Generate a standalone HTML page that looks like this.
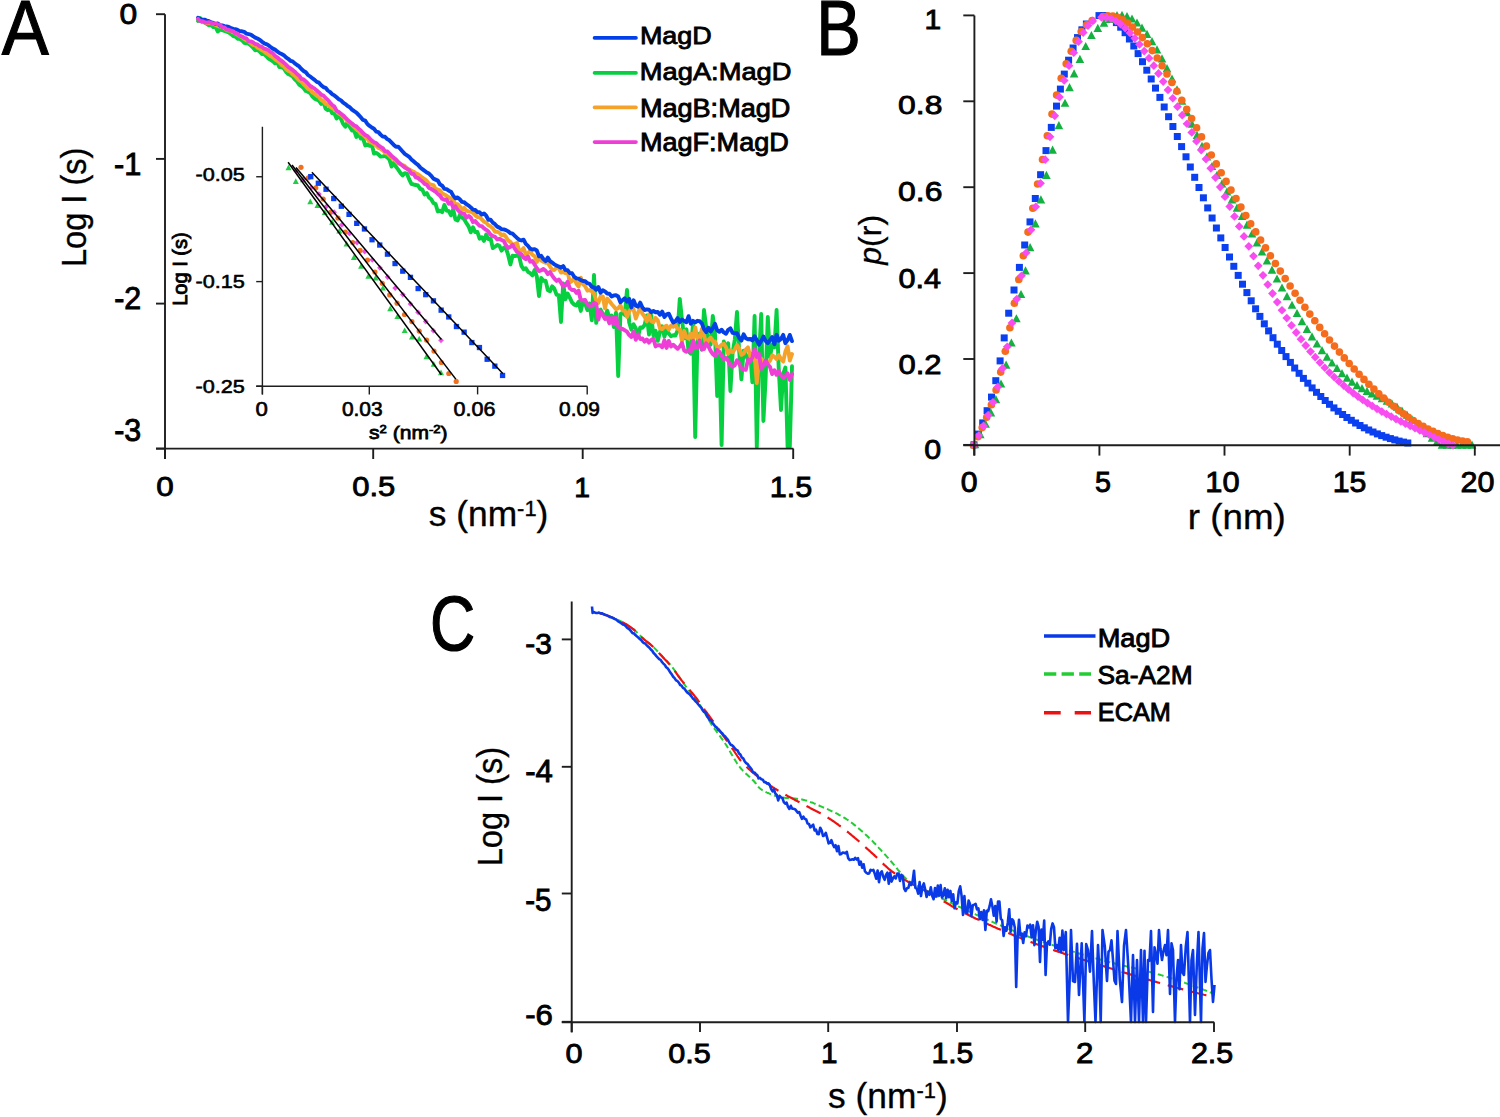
<!DOCTYPE html><html><head><meta charset="utf-8"><style>html,body{margin:0;padding:0;background:#fff;width:1500px;height:1117px;overflow:hidden}svg{display:block}</style></head><body>
<svg width="1500" height="1117" viewBox="0 0 1500 1117" font-family='"Liberation Sans", sans-serif'>
<rect width="1500" height="1117" fill="#fff"/>
<g fill="none" stroke-width="3.9" stroke-linejoin="round" stroke-linecap="round">
<path d="M198.0,20.9 L200.2,18.1 L202.4,22.0 L204.6,22.4 L206.8,23.9 L209.0,25.4 L211.2,24.8 L213.4,27.1 L215.6,27.2 L217.8,31.5 L220.0,29.6 L222.2,30.0 L224.4,31.0 L226.6,31.7 L228.8,32.5 L231.0,34.1 L233.2,36.0 L235.4,36.5 L237.6,38.7 L239.8,38.9 L242.0,40.3 L244.2,42.8 L246.4,43.3 L248.6,43.7 L250.8,45.4 L253.0,47.5 L255.2,50.3 L257.4,49.9 L259.6,51.5 L261.8,54.0 L264.0,54.0 L266.2,56.0 L268.4,58.6 L270.6,59.9 L272.8,61.2 L275.0,63.3 L277.2,62.2 L279.4,67.1 L281.6,67.2 L283.8,68.4 L286.0,71.8 L288.2,74.0 L290.4,75.0 L292.6,76.4 L294.8,79.4 L297.0,81.4 L299.2,84.6 L301.4,86.3 L303.6,88.0 L305.8,91.0 L308.0,91.7 L310.2,93.0 L312.4,96.6 L314.6,98.6 L316.8,99.6 L319.0,100.7 L321.2,104.0 L323.4,101.9 L325.6,108.6 L327.8,110.2 L330.0,108.6 L332.2,113.4 L334.4,113.4 L336.6,118.5 L338.8,115.0 L341.0,119.0 L343.2,124.1 L345.4,126.8 L347.6,121.9 L349.8,127.0 L352.0,130.6 L354.2,130.5 L356.4,137.0 L358.6,133.2 L360.8,138.6 L363.0,137.9 L365.2,145.4 L367.4,144.5 L369.6,145.8 L371.8,144.6 L374.0,153.5 L376.2,152.9 L378.4,154.3 L380.6,156.6 L382.8,156.4 L385.0,155.9 L387.2,157.4 L389.4,159.5 L391.6,166.6 L393.8,162.6 L396.0,166.8 L398.2,169.6 L400.4,172.9 L402.6,175.5 L404.8,173.1 L407.0,173.7 L409.2,179.4 L411.4,183.9 L413.6,184.5 L415.8,185.0 L418.0,185.5 L420.2,188.9 L422.4,189.7 L424.6,194.5 L426.8,193.0 L429.0,197.5 L431.2,199.2 L433.4,202.9 L435.6,204.0 L437.8,211.5 L440.0,210.6 L442.2,212.1 L444.4,204.9 L446.6,210.5 L448.8,211.1 L451.0,215.3 L453.2,209.3 L455.4,219.4 L457.6,220.4 L459.8,215.3 L462.0,217.4 L464.2,219.2 L466.4,223.1 L468.6,226.4 L470.8,232.3 L473.0,227.4 L475.2,232.1 L477.4,232.0 L479.6,238.7 L481.8,237.2 L484.0,240.9 L486.2,234.6 L488.4,239.1 L490.6,238.6 L492.8,248.1 L495.0,246.7 L497.2,244.9 L499.4,245.8 L501.6,250.6 L503.8,247.8 L506.0,248.4 L508.2,255.2 L510.4,264.4 L512.6,255.7 L514.8,256.1 L517.0,255.4 L519.2,256.5 L521.4,265.9 L523.6,269.3 L525.8,268.2 L528.0,271.8 L530.2,273.2 L532.4,275.4 L534.6,270.0 L536.8,276.3 L539.0,296.0 L541.2,278.0 L543.4,280.8 L545.6,280.6 L547.8,290.0 L550.0,291.2 L552.2,286.4 L554.4,288.9 L556.6,294.8 L558.8,295.1 L561.0,322.0 L563.2,283.4 L565.4,299.4 L567.6,293.5 L569.8,297.6 L572.0,302.3 L574.2,304.6 L576.4,305.5 L578.6,301.8 L580.8,310.9 L583.0,301.6 L585.2,303.6 L587.4,310.1 L589.6,303.5 L591.8,320.3 L594.0,275.0 L596.2,322.8 L598.4,310.8 L600.6,309.6 L602.8,313.8 L605.0,318.1 L607.2,310.6 L609.4,317.5 L611.6,315.6 L613.8,327.0 L616.0,312.7 L618.2,376.0 L620.4,314.1 L622.6,312.6 L624.8,315.0 L627.0,290.0 L629.2,322.5 L631.4,329.7 L633.6,324.3 L635.8,328.5 L638.0,336.8 L640.2,327.5 L642.4,327.8 L644.6,325.0 L646.8,315.4 L649.0,334.6 L651.2,315.5 L653.4,335.4 L655.6,330.8 L657.8,340.8 L660.0,331.8 L662.2,326.2 L664.4,336.7 L666.6,329.7 L668.8,333.6 L671.0,336.2 L673.2,335.3 L675.4,335.5 L677.6,330.4 L679.8,299.0 L682.0,319.7 L684.2,338.3 L686.4,329.3 L688.6,351.5 L690.8,353.7 L693.0,323.5 L695.2,437.0 L697.4,342.1 L699.6,333.6 L701.8,349.7 L704.0,310.0 L706.2,327.4 L708.4,343.1 L710.6,344.7 L712.8,316.0 L715.0,334.1 L717.2,396.0 L719.4,355.8 L721.6,445.0 L723.8,341.5 L726.0,348.3 L728.2,343.3 L730.4,391.0 L732.6,353.0 L734.8,339.5 L737.0,312.0 L739.2,351.3 L741.4,379.4 L743.6,350.8 L745.8,354.8 L748.0,359.9 L750.2,353.5 L752.4,382.3 L754.6,316.0 L756.8,447.0 L759.0,357.3 L761.2,314.0 L763.4,421.0 L765.6,378.8 L767.8,317.0 L770.0,357.0 L772.2,344.5 L774.4,347.3 L776.6,310.0 L778.8,370.5 L781.0,410.0 L783.2,374.0 L785.4,367.5 L787.6,447.0 L789.8,447.0 L792.0,366.3" stroke="#06d040"/>
<path d="M198.0,18.8 L200.2,20.6 L202.4,21.8 L204.6,22.4 L206.8,23.0 L209.0,22.8 L211.2,23.1 L213.4,23.6 L215.6,25.0 L217.8,26.1 L220.0,26.5 L222.2,26.8 L224.4,28.0 L226.6,30.0 L228.8,30.5 L231.0,30.8 L233.2,32.5 L235.4,33.2 L237.6,34.7 L239.8,36.0 L242.0,37.2 L244.2,39.1 L246.4,40.2 L248.6,41.4 L250.8,43.2 L253.0,44.9 L255.2,45.4 L257.4,47.5 L259.6,48.6 L261.8,50.3 L264.0,51.2 L266.2,53.2 L268.4,54.7 L270.6,56.1 L272.8,57.4 L275.0,59.4 L277.2,60.8 L279.4,62.5 L281.6,65.0 L283.8,66.2 L286.0,69.1 L288.2,70.8 L290.4,71.5 L292.6,74.4 L294.8,75.8 L297.0,78.3 L299.2,80.4 L301.4,81.5 L303.6,84.4 L305.8,86.4 L308.0,88.9 L310.2,89.8 L312.4,92.6 L314.6,93.5 L316.8,95.7 L319.0,97.2 L321.2,100.0 L323.4,101.3 L325.6,103.9 L327.8,104.8 L330.0,106.6 L332.2,108.2 L334.4,109.2 L336.6,111.2 L338.8,113.6 L341.0,114.7 L343.2,116.8 L345.4,118.7 L347.6,121.1 L349.8,122.7 L352.0,124.9 L354.2,127.2 L356.4,129.3 L358.6,130.9 L360.8,133.8 L363.0,134.8 L365.2,136.9 L367.4,138.7 L369.6,141.6 L371.8,142.7 L374.0,144.1 L376.2,145.6 L378.4,147.9 L380.6,148.8 L382.8,150.3 L385.0,152.8 L387.2,153.6 L389.4,155.8 L391.6,157.7 L393.8,159.2 L396.0,161.1 L398.2,163.4 L400.4,164.0 L402.6,165.1 L404.8,166.1 L407.0,168.2 L409.2,169.4 L411.4,170.9 L413.6,171.8 L415.8,173.1 L418.0,174.3 L420.2,175.9 L422.4,177.8 L424.6,179.1 L426.8,181.0 L429.0,183.8 L431.2,184.7 L433.4,185.1 L435.6,188.9 L437.8,189.7 L440.0,190.4 L442.2,193.5 L444.4,194.5 L446.6,195.7 L448.8,197.4 L451.0,198.7 L453.2,201.3 L455.4,203.8 L457.6,204.2 L459.8,206.4 L462.0,209.4 L464.2,207.8 L466.4,210.6 L468.6,211.3 L470.8,211.7 L473.0,212.9 L475.2,215.2 L477.4,217.0 L479.6,217.2 L481.8,219.4 L484.0,221.7 L486.2,222.8 L488.4,225.2 L490.6,226.4 L492.8,228.2 L495.0,231.8 L497.2,231.8 L499.4,232.8 L501.6,235.3 L503.8,234.4 L506.0,236.9 L508.2,240.5 L510.4,241.9 L512.6,245.1 L514.8,244.0 L517.0,243.0 L519.2,250.7 L521.4,250.7 L523.6,248.1 L525.8,254.3 L528.0,253.1 L530.2,250.8 L532.4,254.9 L534.6,256.1 L536.8,261.9 L539.0,258.1 L541.2,260.5 L543.4,261.7 L545.6,262.7 L547.8,262.7 L550.0,266.5 L552.2,269.8 L554.4,270.0 L556.6,267.5 L558.8,268.2 L561.0,272.6 L563.2,271.8 L565.4,273.2 L567.6,271.7 L569.8,282.4 L572.0,281.0 L574.2,277.4 L576.4,283.7 L578.6,286.4 L580.8,277.7 L583.0,284.2 L585.2,286.3 L587.4,290.7 L589.6,290.2 L591.8,291.4 L594.0,293.5 L596.2,300.5 L598.4,302.9 L600.6,296.3 L602.8,296.4 L605.0,308.4 L607.2,298.6 L609.4,301.0 L611.6,304.0 L613.8,306.5 L616.0,309.3 L618.2,308.3 L620.4,305.3 L622.6,310.6 L624.8,310.7 L627.0,316.9 L629.2,311.5 L631.4,307.9 L633.6,309.6 L635.8,318.6 L638.0,312.6 L640.2,308.0 L642.4,313.8 L644.6,316.5 L646.8,321.4 L649.0,314.5 L651.2,321.1 L653.4,322.4 L655.6,317.9 L657.8,320.5 L660.0,328.4 L662.2,329.1 L664.4,326.8 L666.6,325.7 L668.8,329.6 L671.0,325.7 L673.2,326.7 L675.4,324.7 L677.6,328.9 L679.8,329.4 L682.0,341.3 L684.2,330.8 L686.4,337.4 L688.6,338.6 L690.8,333.6 L693.0,339.8 L695.2,327.4 L697.4,337.3 L699.6,341.3 L701.8,329.0 L704.0,334.8 L706.2,344.7 L708.4,340.1 L710.6,337.5 L712.8,341.3 L715.0,341.4 L717.2,347.5 L719.4,347.1 L721.6,344.8 L723.8,343.8 L726.0,347.2 L728.2,353.8 L730.4,350.3 L732.6,352.2 L734.8,349.4 L737.0,345.1 L739.2,348.3 L741.4,355.0 L743.6,353.4 L745.8,349.7 L748.0,347.4 L750.2,356.1 L752.4,354.7 L754.6,355.2 L756.8,383.0 L759.0,358.3 L761.2,358.4 L763.4,361.5 L765.6,361.4 L767.8,363.3 L770.0,360.8 L772.2,355.4 L774.4,356.7 L776.6,359.2 L778.8,355.1 L781.0,359.0 L783.2,361.6 L785.4,351.6 L787.6,346.3 L789.8,360.5 L792.0,354.1" stroke="#f5a22a"/>
<path d="M198.0,17.8 L200.2,19.0 L202.4,19.7 L204.6,19.7 L206.8,20.5 L209.0,21.2 L211.2,22.4 L213.4,23.0 L215.6,24.0 L217.8,23.5 L220.0,25.5 L222.2,25.4 L224.4,26.2 L226.6,26.5 L228.8,27.0 L231.0,28.0 L233.2,28.9 L235.4,29.2 L237.6,29.9 L239.8,31.1 L242.0,31.3 L244.2,31.9 L246.4,33.6 L248.6,34.1 L250.8,34.6 L253.0,36.2 L255.2,37.6 L257.4,38.5 L259.6,39.7 L261.8,41.6 L264.0,43.2 L266.2,44.1 L268.4,45.2 L270.6,47.0 L272.8,48.6 L275.0,49.6 L277.2,51.4 L279.4,53.0 L281.6,54.0 L283.8,55.2 L286.0,57.3 L288.2,58.8 L290.4,60.8 L292.6,61.4 L294.8,63.4 L297.0,65.0 L299.2,66.4 L301.4,69.0 L303.6,71.0 L305.8,72.3 L308.0,75.0 L310.2,76.5 L312.4,78.2 L314.6,79.9 L316.8,81.9 L319.0,82.7 L321.2,85.3 L323.4,87.1 L325.6,87.8 L327.8,90.5 L330.0,92.0 L332.2,94.2 L334.4,95.4 L336.6,97.3 L338.8,99.2 L341.0,100.4 L343.2,102.7 L345.4,104.1 L347.6,106.0 L349.8,107.2 L352.0,109.6 L354.2,111.2 L356.4,112.6 L358.6,114.9 L360.8,117.3 L363.0,119.9 L365.2,120.6 L367.4,124.0 L369.6,125.9 L371.8,127.5 L374.0,128.8 L376.2,131.6 L378.4,132.1 L380.6,134.6 L382.8,136.6 L385.0,136.8 L387.2,139.1 L389.4,140.3 L391.6,142.6 L393.8,144.9 L396.0,146.8 L398.2,146.7 L400.4,149.0 L402.6,151.5 L404.8,153.9 L407.0,155.3 L409.2,156.8 L411.4,159.4 L413.6,161.3 L415.8,163.2 L418.0,164.9 L420.2,167.4 L422.4,169.2 L424.6,170.8 L426.8,172.5 L429.0,173.6 L431.2,175.8 L433.4,178.6 L435.6,179.6 L437.8,180.6 L440.0,184.4 L442.2,185.7 L444.4,188.8 L446.6,189.2 L448.8,190.7 L451.0,191.7 L453.2,195.6 L455.4,198.4 L457.6,197.4 L459.8,199.2 L462.0,201.9 L464.2,202.2 L466.4,204.2 L468.6,205.6 L470.8,207.4 L473.0,209.6 L475.2,210.0 L477.4,212.2 L479.6,212.3 L481.8,214.5 L484.0,213.5 L486.2,215.7 L488.4,219.7 L490.6,219.8 L492.8,222.6 L495.0,224.2 L497.2,226.6 L499.4,227.6 L501.6,229.3 L503.8,229.4 L506.0,230.1 L508.2,231.4 L510.4,233.1 L512.6,233.7 L514.8,235.8 L517.0,237.9 L519.2,239.8 L521.4,240.5 L523.6,239.7 L525.8,243.9 L528.0,245.9 L530.2,248.7 L532.4,249.5 L534.6,249.1 L536.8,250.5 L539.0,256.3 L541.2,255.8 L543.4,259.1 L545.6,261.1 L547.8,257.6 L550.0,261.1 L552.2,262.7 L554.4,264.3 L556.6,265.7 L558.8,266.5 L561.0,267.8 L563.2,266.1 L565.4,269.9 L567.6,270.2 L569.8,273.1 L572.0,273.3 L574.2,276.7 L576.4,278.4 L578.6,278.7 L580.8,280.1 L583.0,281.0 L585.2,281.3 L587.4,283.2 L589.6,283.8 L591.8,286.9 L594.0,287.4 L596.2,289.8 L598.4,287.0 L600.6,292.8 L602.8,290.3 L605.0,291.4 L607.2,293.5 L609.4,293.7 L611.6,296.5 L613.8,295.4 L616.0,295.2 L618.2,296.5 L620.4,302.3 L622.6,300.2 L624.8,298.2 L627.0,301.7 L629.2,298.9 L631.4,307.4 L633.6,300.3 L635.8,305.8 L638.0,306.7 L640.2,302.6 L642.4,307.5 L644.6,310.0 L646.8,309.4 L649.0,309.7 L651.2,312.2 L653.4,311.0 L655.6,312.3 L657.8,312.0 L660.0,314.8 L662.2,311.6 L664.4,317.0 L666.6,314.4 L668.8,313.7 L671.0,318.3 L673.2,322.6 L675.4,321.3 L677.6,318.1 L679.8,322.0 L682.0,319.5 L684.2,321.0 L686.4,322.2 L688.6,316.2 L690.8,323.7 L693.0,320.9 L695.2,322.4 L697.4,320.8 L699.6,321.2 L701.8,323.4 L704.0,329.1 L706.2,332.1 L708.4,327.7 L710.6,331.6 L712.8,328.1 L715.0,323.8 L717.2,330.4 L719.4,331.8 L721.6,329.7 L723.8,332.4 L726.0,333.7 L728.2,329.8 L730.4,328.4 L732.6,332.8 L734.8,333.3 L737.0,333.3 L739.2,337.9 L741.4,340.6 L743.6,334.3 L745.8,338.2 L748.0,339.3 L750.2,339.0 L752.4,340.4 L754.6,336.2 L756.8,340.2 L759.0,344.7 L761.2,341.0 L763.4,336.6 L765.6,340.9 L767.8,343.2 L770.0,340.2 L772.2,337.1 L774.4,344.2 L776.6,334.8 L778.8,340.7 L781.0,338.9 L783.2,334.9 L785.4,343.2 L787.6,340.2 L789.8,334.9 L792.0,341.1" stroke="#0340e8"/>
<path d="M198.0,18.8 L200.2,21.3 L202.4,21.1 L204.6,22.3 L206.8,22.6 L209.0,22.2 L211.2,22.9 L213.4,23.3 L215.6,23.7 L217.8,24.3 L220.0,24.7 L222.2,27.1 L224.4,27.4 L226.6,29.5 L228.8,29.8 L231.0,30.6 L233.2,31.3 L235.4,33.3 L237.6,33.7 L239.8,35.9 L242.0,36.3 L244.2,37.9 L246.4,38.4 L248.6,41.2 L250.8,41.4 L253.0,42.3 L255.2,44.0 L257.4,44.4 L259.6,46.3 L261.8,46.6 L264.0,48.6 L266.2,49.2 L268.4,50.2 L270.6,52.1 L272.8,53.3 L275.0,55.8 L277.2,57.3 L279.4,59.3 L281.6,60.9 L283.8,62.6 L286.0,64.6 L288.2,66.9 L290.4,68.3 L292.6,69.9 L294.8,71.7 L297.0,74.0 L299.2,75.7 L301.4,78.8 L303.6,79.4 L305.8,81.4 L308.0,83.7 L310.2,86.0 L312.4,87.3 L314.6,88.7 L316.8,90.5 L319.0,92.4 L321.2,94.7 L323.4,95.6 L325.6,98.0 L327.8,99.9 L330.0,102.6 L332.2,105.0 L334.4,106.6 L336.6,110.7 L338.8,111.9 L341.0,113.7 L343.2,115.5 L345.4,117.7 L347.6,119.8 L349.8,121.9 L352.0,123.5 L354.2,125.5 L356.4,126.4 L358.6,128.8 L360.8,130.6 L363.0,133.0 L365.2,135.0 L367.4,136.0 L369.6,138.4 L371.8,140.6 L374.0,142.3 L376.2,143.0 L378.4,145.4 L380.6,146.9 L382.8,148.2 L385.0,151.1 L387.2,151.4 L389.4,153.6 L391.6,155.9 L393.8,157.7 L396.0,159.5 L398.2,162.1 L400.4,164.0 L402.6,165.7 L404.8,167.6 L407.0,168.9 L409.2,170.2 L411.4,173.7 L413.6,174.0 L415.8,177.4 L418.0,178.0 L420.2,180.0 L422.4,181.5 L424.6,183.9 L426.8,184.8 L429.0,188.0 L431.2,188.9 L433.4,190.4 L435.6,191.7 L437.8,194.0 L440.0,195.6 L442.2,198.8 L444.4,199.8 L446.6,199.5 L448.8,203.8 L451.0,202.3 L453.2,207.4 L455.4,206.2 L457.6,209.7 L459.8,212.2 L462.0,213.2 L464.2,213.7 L466.4,217.7 L468.6,215.9 L470.8,217.6 L473.0,222.1 L475.2,221.0 L477.4,223.7 L479.6,225.8 L481.8,226.2 L484.0,228.3 L486.2,229.8 L488.4,231.6 L490.6,234.6 L492.8,236.0 L495.0,236.8 L497.2,239.4 L499.4,238.8 L501.6,239.9 L503.8,241.0 L506.0,245.3 L508.2,248.1 L510.4,246.9 L512.6,244.8 L514.8,248.7 L517.0,251.9 L519.2,253.1 L521.4,254.3 L523.6,257.6 L525.8,259.2 L528.0,256.5 L530.2,261.7 L532.4,261.0 L534.6,264.6 L536.8,268.3 L539.0,271.1 L541.2,270.2 L543.4,268.9 L545.6,270.7 L547.8,274.1 L550.0,272.0 L552.2,275.6 L554.4,278.7 L556.6,281.0 L558.8,279.5 L561.0,282.6 L563.2,286.6 L565.4,285.4 L567.6,281.7 L569.8,288.3 L572.0,290.0 L574.2,289.9 L576.4,292.9 L578.6,290.7 L580.8,300.2 L583.0,300.3 L585.2,300.0 L587.4,304.6 L589.6,306.6 L591.8,306.0 L594.0,302.8 L596.2,303.9 L598.4,319.5 L600.6,311.6 L602.8,315.3 L605.0,319.0 L607.2,317.3 L609.4,323.2 L611.6,317.9 L613.8,323.8 L616.0,316.9 L618.2,327.1 L620.4,328.5 L622.6,329.0 L624.8,330.3 L627.0,331.7 L629.2,335.1 L631.4,336.9 L633.6,331.9 L635.8,339.8 L638.0,334.3 L640.2,339.0 L642.4,338.5 L644.6,341.7 L646.8,339.5 L649.0,342.6 L651.2,340.0 L653.4,338.8 L655.6,346.4 L657.8,345.1 L660.0,345.3 L662.2,347.3 L664.4,340.3 L666.6,347.9 L668.8,340.9 L671.0,346.6 L673.2,344.8 L675.4,346.8 L677.6,348.8 L679.8,346.5 L682.0,343.1 L684.2,350.5 L686.4,351.7 L688.6,350.0 L690.8,351.6 L693.0,340.7 L695.2,348.2 L697.4,347.7 L699.6,340.6 L701.8,349.2 L704.0,349.1 L706.2,343.3 L708.4,346.4 L710.6,350.9 L712.8,354.1 L715.0,356.0 L717.2,350.0 L719.4,351.8 L721.6,355.8 L723.8,359.2 L726.0,358.0 L728.2,360.8 L730.4,365.8 L732.6,366.7 L734.8,365.3 L737.0,360.4 L739.2,363.7 L741.4,368.5 L743.6,369.6 L745.8,369.9 L748.0,359.6 L750.2,361.4 L752.4,357.3 L754.6,348.7 L756.8,356.9 L759.0,353.9 L761.2,368.9 L763.4,365.1 L765.6,360.5 L767.8,364.5 L770.0,366.9 L772.2,374.1 L774.4,370.2 L776.6,374.8 L778.8,370.7 L781.0,375.8 L783.2,377.7 L785.4,376.4 L787.6,373.3 L789.8,380.0 L792.0,374.1" stroke="#ee3ed6"/>
</g>
<g stroke="#1e1e1e" stroke-width="1.9" fill="none">
<path d="M165,14.2 V459 M156,448.6 H793.4"/>
<path d="M156,14.2 H165"/>
<path d="M156,158.9 H165"/>
<path d="M156,303.6 H165"/>
<path d="M156,448.6 H165"/>
<path d="M165,448.6 V459"/>
<path d="M373.2,448.6 V459"/>
<path d="M582.7,448.6 V459"/>
<path d="M793.2,448.6 V459"/>
</g>
<path d="M594.5,37.9 H636" stroke="#0340e8" stroke-width="3.6" stroke-linecap="round"/>
<path d="M594.5,72.9 H636" stroke="#06d040" stroke-width="3.6" stroke-linecap="round"/>
<path d="M594.5,107.4 H636" stroke="#f5a22a" stroke-width="3.6" stroke-linecap="round"/>
<path d="M594.5,142.1 H636" stroke="#ee3ed6" stroke-width="3.6" stroke-linecap="round"/>
<g stroke="#1e1e1e" stroke-width="1.4" fill="none">
<path d="M262.4,126.7 V394.4 M256.2,386.2 H587.4"/>
<path d="M256.2,176.75 H262.4"/>
<path d="M256.2,281.6 H262.4"/>
<path d="M256.2,386.2 H262.4"/>
<path d="M262.4,386.2 V394.4"/>
<path d="M369.3,386.2 V394.4"/>
<path d="M477.6,386.2 V394.4"/>
<path d="M587.2,386.2 V394.4"/>
</g>
<path d="M288.5,164.5 L291.5,170.2 L285.5,170.2Z" fill="#22cc44"/>
<path d="M295.8,178.3 L298.8,184.0 L292.8,184.0Z" fill="#22cc44"/>
<path d="M303.0,176.5 L306.0,182.2 L300.0,182.2Z" fill="#22cc44"/>
<path d="M310.3,198.5 L313.3,204.2 L307.3,204.2Z" fill="#22cc44"/>
<path d="M317.5,202.2 L320.5,207.9 L314.5,207.9Z" fill="#22cc44"/>
<path d="M324.8,209.3 L327.8,215.0 L321.8,215.0Z" fill="#22cc44"/>
<path d="M332.1,219.1 L335.1,224.8 L329.1,224.8Z" fill="#22cc44"/>
<path d="M339.3,227.9 L342.3,233.6 L336.3,233.6Z" fill="#22cc44"/>
<path d="M346.6,240.7 L349.6,246.4 L343.6,246.4Z" fill="#22cc44"/>
<path d="M353.9,254.2 L356.9,259.9 L350.9,259.9Z" fill="#22cc44"/>
<path d="M361.1,263.1 L364.1,268.8 L358.1,268.8Z" fill="#22cc44"/>
<path d="M368.4,273.1 L371.4,278.8 L365.4,278.8Z" fill="#22cc44"/>
<path d="M375.6,274.7 L378.6,280.4 L372.6,280.4Z" fill="#22cc44"/>
<path d="M382.9,284.9 L385.9,290.6 L379.9,290.6Z" fill="#22cc44"/>
<path d="M390.2,305.6 L393.2,311.3 L387.2,311.3Z" fill="#22cc44"/>
<path d="M397.4,313.4 L400.4,319.1 L394.4,319.1Z" fill="#22cc44"/>
<path d="M404.7,327.4 L407.7,333.1 L401.7,333.1Z" fill="#22cc44"/>
<path d="M412.0,333.8 L415.0,339.5 L409.0,339.5Z" fill="#22cc44"/>
<path d="M419.2,335.8 L422.2,341.5 L416.2,341.5Z" fill="#22cc44"/>
<path d="M426.5,353.6 L429.5,359.3 L423.5,359.3Z" fill="#22cc44"/>
<path d="M433.7,361.1 L436.7,366.8 L430.7,366.8Z" fill="#22cc44"/>
<path d="M441.0,369.5 L444.0,375.2 L438.0,375.2Z" fill="#22cc44"/>
<circle cx="301.0" cy="167.3" r="2.6" fill="#f07020"/>
<circle cx="308.4" cy="177.8" r="2.6" fill="#f07020"/>
<circle cx="315.8" cy="187.8" r="2.6" fill="#f07020"/>
<circle cx="323.2" cy="199.0" r="2.6" fill="#f07020"/>
<circle cx="330.6" cy="212.3" r="2.6" fill="#f07020"/>
<circle cx="338.0" cy="218.0" r="2.6" fill="#f07020"/>
<circle cx="345.3" cy="232.0" r="2.6" fill="#f07020"/>
<circle cx="352.7" cy="242.6" r="2.6" fill="#f07020"/>
<circle cx="360.1" cy="250.4" r="2.6" fill="#f07020"/>
<circle cx="367.5" cy="260.1" r="2.6" fill="#f07020"/>
<circle cx="374.9" cy="272.0" r="2.6" fill="#f07020"/>
<circle cx="382.3" cy="283.3" r="2.6" fill="#f07020"/>
<circle cx="389.7" cy="294.9" r="2.6" fill="#f07020"/>
<circle cx="397.1" cy="303.2" r="2.6" fill="#f07020"/>
<circle cx="404.5" cy="314.5" r="2.6" fill="#f07020"/>
<circle cx="411.9" cy="321.6" r="2.6" fill="#f07020"/>
<circle cx="419.2" cy="331.1" r="2.6" fill="#f07020"/>
<circle cx="426.6" cy="340.1" r="2.6" fill="#f07020"/>
<circle cx="434.0" cy="351.1" r="2.6" fill="#f07020"/>
<circle cx="441.4" cy="362.5" r="2.6" fill="#f07020"/>
<circle cx="448.8" cy="373.5" r="2.6" fill="#f07020"/>
<circle cx="456.2" cy="381.4" r="2.6" fill="#f07020"/>
<path d="M296.0,167.8 L298.9,170.7 L296.0,173.5 L293.1,170.7Z" fill="#f050e8"/>
<path d="M303.6,176.3 L306.5,179.2 L303.6,182.1 L300.8,179.2Z" fill="#f050e8"/>
<path d="M311.3,185.0 L314.1,187.8 L311.3,190.7 L308.4,187.8Z" fill="#f050e8"/>
<path d="M318.9,191.2 L321.8,194.1 L318.9,196.9 L316.0,194.1Z" fill="#f050e8"/>
<path d="M326.5,203.4 L329.4,206.3 L326.5,209.2 L323.7,206.3Z" fill="#f050e8"/>
<path d="M334.2,209.3 L337.0,212.2 L334.2,215.1 L331.3,212.2Z" fill="#f050e8"/>
<path d="M341.8,221.9 L344.7,224.8 L341.8,227.7 L338.9,224.8Z" fill="#f050e8"/>
<path d="M349.4,230.5 L352.3,233.4 L349.4,236.2 L346.5,233.4Z" fill="#f050e8"/>
<path d="M357.1,239.7 L359.9,242.6 L357.1,245.5 L354.2,242.6Z" fill="#f050e8"/>
<path d="M364.7,248.6 L367.6,251.5 L364.7,254.4 L361.8,251.5Z" fill="#f050e8"/>
<path d="M372.3,257.0 L375.2,259.8 L372.3,262.7 L369.4,259.8Z" fill="#f050e8"/>
<path d="M379.9,264.9 L382.8,267.8 L379.9,270.7 L377.1,267.8Z" fill="#f050e8"/>
<path d="M387.6,274.1 L390.5,277.0 L387.6,279.9 L384.7,277.0Z" fill="#f050e8"/>
<path d="M395.2,285.3 L398.1,288.1 L395.2,291.0 L392.3,288.1Z" fill="#f050e8"/>
<path d="M402.8,291.7 L405.7,294.6 L402.8,297.4 L400.0,294.6Z" fill="#f050e8"/>
<path d="M410.5,301.1 L413.3,303.9 L410.5,306.8 L407.6,303.9Z" fill="#f050e8"/>
<path d="M418.1,309.4 L421.0,312.3 L418.1,315.2 L415.2,312.3Z" fill="#f050e8"/>
<path d="M425.7,318.6 L428.6,321.5 L425.7,324.4 L422.9,321.5Z" fill="#f050e8"/>
<path d="M433.4,327.8 L436.2,330.7 L433.4,333.6 L430.5,330.7Z" fill="#f050e8"/>
<path d="M441.0,337.4 L443.9,340.3 L441.0,343.2 L438.1,340.3Z" fill="#f050e8"/>
<rect x="308.1" y="174.0" width="5.3" height="5.3" fill="#0a40f0"/>
<rect x="315.7" y="180.6" width="5.3" height="5.3" fill="#0a40f0"/>
<rect x="323.4" y="186.6" width="5.3" height="5.3" fill="#0a40f0"/>
<rect x="331.1" y="195.9" width="5.3" height="5.3" fill="#0a40f0"/>
<rect x="338.7" y="203.6" width="5.3" height="5.3" fill="#0a40f0"/>
<rect x="346.4" y="211.7" width="5.3" height="5.3" fill="#0a40f0"/>
<rect x="354.1" y="220.7" width="5.3" height="5.3" fill="#0a40f0"/>
<rect x="361.8" y="226.3" width="5.3" height="5.3" fill="#0a40f0"/>
<rect x="369.4" y="237.1" width="5.3" height="5.3" fill="#0a40f0"/>
<rect x="377.1" y="242.4" width="5.3" height="5.3" fill="#0a40f0"/>
<rect x="384.8" y="251.5" width="5.3" height="5.3" fill="#0a40f0"/>
<rect x="392.4" y="260.9" width="5.3" height="5.3" fill="#0a40f0"/>
<rect x="400.1" y="268.5" width="5.3" height="5.3" fill="#0a40f0"/>
<rect x="407.8" y="274.7" width="5.3" height="5.3" fill="#0a40f0"/>
<rect x="415.5" y="285.9" width="5.3" height="5.3" fill="#0a40f0"/>
<rect x="423.1" y="292.0" width="5.3" height="5.3" fill="#0a40f0"/>
<rect x="430.8" y="298.2" width="5.3" height="5.3" fill="#0a40f0"/>
<rect x="438.5" y="307.5" width="5.3" height="5.3" fill="#0a40f0"/>
<rect x="446.1" y="314.3" width="5.3" height="5.3" fill="#0a40f0"/>
<rect x="453.8" y="323.9" width="5.3" height="5.3" fill="#0a40f0"/>
<rect x="461.5" y="329.5" width="5.3" height="5.3" fill="#0a40f0"/>
<rect x="469.2" y="339.9" width="5.3" height="5.3" fill="#0a40f0"/>
<rect x="476.8" y="344.9" width="5.3" height="5.3" fill="#0a40f0"/>
<rect x="484.5" y="356.6" width="5.3" height="5.3" fill="#0a40f0"/>
<rect x="492.2" y="363.5" width="5.3" height="5.3" fill="#0a40f0"/>
<rect x="499.9" y="372.8" width="5.3" height="5.3" fill="#0a40f0"/>
<g stroke="#000" stroke-width="1.5" fill="none">
<path d="M288.1,162.3 L441.4,374.7"/>
<path d="M292.0,165.0 L455.8,379.1"/>
<path d="M296.0,167.5 L441.4,339.6"/>
<path d="M311.9,172.3 L502.8,373.5"/>
</g>
<rect x="970.5" y="441.3" width="7.0" height="7.0" fill="#0a40f0"/>
<rect x="974.9" y="430.6" width="7.0" height="7.0" fill="#0a40f0"/>
<rect x="979.2" y="419.4" width="7.0" height="7.0" fill="#0a40f0"/>
<rect x="983.6" y="407.2" width="7.0" height="7.0" fill="#0a40f0"/>
<rect x="988.0" y="393.6" width="7.0" height="7.0" fill="#0a40f0"/>
<rect x="992.3" y="377.2" width="7.0" height="7.0" fill="#0a40f0"/>
<rect x="996.6" y="357.4" width="7.0" height="7.0" fill="#0a40f0"/>
<rect x="1000.7" y="334.4" width="7.0" height="7.0" fill="#0a40f0"/>
<rect x="1005.2" y="309.7" width="7.0" height="7.0" fill="#0a40f0"/>
<rect x="1010.5" y="286.5" width="7.0" height="7.0" fill="#0a40f0"/>
<rect x="1015.9" y="263.9" width="7.0" height="7.0" fill="#0a40f0"/>
<rect x="1021.2" y="241.5" width="7.0" height="7.0" fill="#0a40f0"/>
<rect x="1026.5" y="218.4" width="7.0" height="7.0" fill="#0a40f0"/>
<rect x="1031.8" y="195.0" width="7.0" height="7.0" fill="#0a40f0"/>
<rect x="1037.1" y="171.2" width="7.0" height="7.0" fill="#0a40f0"/>
<rect x="1042.5" y="147.1" width="7.0" height="7.0" fill="#0a40f0"/>
<rect x="1047.8" y="123.9" width="7.0" height="7.0" fill="#0a40f0"/>
<rect x="1053.0" y="102.6" width="7.0" height="7.0" fill="#0a40f0"/>
<rect x="1056.9" y="85.6" width="7.0" height="7.0" fill="#0a40f0"/>
<rect x="1060.8" y="70.6" width="7.0" height="7.0" fill="#0a40f0"/>
<rect x="1065.1" y="56.7" width="7.0" height="7.0" fill="#0a40f0"/>
<rect x="1069.6" y="44.5" width="7.0" height="7.0" fill="#0a40f0"/>
<rect x="1074.0" y="34.1" width="7.0" height="7.0" fill="#0a40f0"/>
<rect x="1078.4" y="26.3" width="7.0" height="7.0" fill="#0a40f0"/>
<rect x="1082.9" y="20.5" width="7.0" height="7.0" fill="#0a40f0"/>
<rect x="1095.5" y="12.1" width="7.0" height="7.0" fill="#0a40f0"/>
<rect x="1099.8" y="12.0" width="7.0" height="7.0" fill="#0a40f0"/>
<rect x="1104.2" y="13.2" width="7.0" height="7.0" fill="#0a40f0"/>
<rect x="1108.5" y="15.6" width="7.0" height="7.0" fill="#0a40f0"/>
<rect x="1112.9" y="19.1" width="7.0" height="7.0" fill="#0a40f0"/>
<rect x="1117.2" y="23.7" width="7.0" height="7.0" fill="#0a40f0"/>
<rect x="1121.6" y="29.2" width="7.0" height="7.0" fill="#0a40f0"/>
<rect x="1125.9" y="35.5" width="7.0" height="7.0" fill="#0a40f0"/>
<rect x="1130.3" y="42.5" width="7.0" height="7.0" fill="#0a40f0"/>
<rect x="1134.6" y="50.1" width="7.0" height="7.0" fill="#0a40f0"/>
<rect x="1139.0" y="58.2" width="7.0" height="7.0" fill="#0a40f0"/>
<rect x="1143.3" y="66.7" width="7.0" height="7.0" fill="#0a40f0"/>
<rect x="1147.7" y="75.5" width="7.0" height="7.0" fill="#0a40f0"/>
<rect x="1152.0" y="84.6" width="7.0" height="7.0" fill="#0a40f0"/>
<rect x="1156.4" y="93.9" width="7.0" height="7.0" fill="#0a40f0"/>
<rect x="1160.7" y="103.5" width="7.0" height="7.0" fill="#0a40f0"/>
<rect x="1165.1" y="113.2" width="7.0" height="7.0" fill="#0a40f0"/>
<rect x="1169.4" y="123.0" width="7.0" height="7.0" fill="#0a40f0"/>
<rect x="1173.8" y="133.0" width="7.0" height="7.0" fill="#0a40f0"/>
<rect x="1178.1" y="143.1" width="7.0" height="7.0" fill="#0a40f0"/>
<rect x="1182.5" y="153.3" width="7.0" height="7.0" fill="#0a40f0"/>
<rect x="1186.8" y="163.5" width="7.0" height="7.0" fill="#0a40f0"/>
<rect x="1191.2" y="173.8" width="7.0" height="7.0" fill="#0a40f0"/>
<rect x="1195.5" y="184.0" width="7.0" height="7.0" fill="#0a40f0"/>
<rect x="1199.9" y="194.3" width="7.0" height="7.0" fill="#0a40f0"/>
<rect x="1204.2" y="204.4" width="7.0" height="7.0" fill="#0a40f0"/>
<rect x="1208.6" y="214.5" width="7.0" height="7.0" fill="#0a40f0"/>
<rect x="1212.9" y="224.5" width="7.0" height="7.0" fill="#0a40f0"/>
<rect x="1217.3" y="234.4" width="7.0" height="7.0" fill="#0a40f0"/>
<rect x="1221.6" y="244.0" width="7.0" height="7.0" fill="#0a40f0"/>
<rect x="1226.0" y="253.5" width="7.0" height="7.0" fill="#0a40f0"/>
<rect x="1230.3" y="262.8" width="7.0" height="7.0" fill="#0a40f0"/>
<rect x="1234.7" y="271.9" width="7.0" height="7.0" fill="#0a40f0"/>
<rect x="1239.0" y="280.7" width="7.0" height="7.0" fill="#0a40f0"/>
<rect x="1243.4" y="289.1" width="7.0" height="7.0" fill="#0a40f0"/>
<rect x="1247.7" y="297.3" width="7.0" height="7.0" fill="#0a40f0"/>
<rect x="1252.1" y="305.3" width="7.0" height="7.0" fill="#0a40f0"/>
<rect x="1256.4" y="312.9" width="7.0" height="7.0" fill="#0a40f0"/>
<rect x="1260.8" y="320.3" width="7.0" height="7.0" fill="#0a40f0"/>
<rect x="1265.1" y="327.4" width="7.0" height="7.0" fill="#0a40f0"/>
<rect x="1269.5" y="334.2" width="7.0" height="7.0" fill="#0a40f0"/>
<rect x="1273.8" y="340.7" width="7.0" height="7.0" fill="#0a40f0"/>
<rect x="1278.2" y="347.0" width="7.0" height="7.0" fill="#0a40f0"/>
<rect x="1282.5" y="353.1" width="7.0" height="7.0" fill="#0a40f0"/>
<rect x="1286.9" y="358.9" width="7.0" height="7.0" fill="#0a40f0"/>
<rect x="1291.2" y="364.5" width="7.0" height="7.0" fill="#0a40f0"/>
<rect x="1295.6" y="369.8" width="7.0" height="7.0" fill="#0a40f0"/>
<rect x="1299.9" y="374.9" width="7.0" height="7.0" fill="#0a40f0"/>
<rect x="1304.3" y="379.7" width="7.0" height="7.0" fill="#0a40f0"/>
<rect x="1308.6" y="384.4" width="7.0" height="7.0" fill="#0a40f0"/>
<rect x="1313.0" y="388.8" width="7.0" height="7.0" fill="#0a40f0"/>
<rect x="1317.3" y="393.0" width="7.0" height="7.0" fill="#0a40f0"/>
<rect x="1321.7" y="397.0" width="7.0" height="7.0" fill="#0a40f0"/>
<rect x="1326.0" y="400.8" width="7.0" height="7.0" fill="#0a40f0"/>
<rect x="1330.4" y="404.4" width="7.0" height="7.0" fill="#0a40f0"/>
<rect x="1334.7" y="407.8" width="7.0" height="7.0" fill="#0a40f0"/>
<rect x="1339.1" y="411.0" width="7.0" height="7.0" fill="#0a40f0"/>
<rect x="1343.4" y="414.0" width="7.0" height="7.0" fill="#0a40f0"/>
<rect x="1347.8" y="416.8" width="7.0" height="7.0" fill="#0a40f0"/>
<rect x="1352.1" y="419.5" width="7.0" height="7.0" fill="#0a40f0"/>
<rect x="1356.5" y="422.0" width="7.0" height="7.0" fill="#0a40f0"/>
<rect x="1360.8" y="424.3" width="7.0" height="7.0" fill="#0a40f0"/>
<rect x="1365.2" y="426.5" width="7.0" height="7.0" fill="#0a40f0"/>
<rect x="1369.5" y="428.5" width="7.0" height="7.0" fill="#0a40f0"/>
<rect x="1373.9" y="430.4" width="7.0" height="7.0" fill="#0a40f0"/>
<rect x="1378.2" y="432.1" width="7.0" height="7.0" fill="#0a40f0"/>
<rect x="1382.6" y="433.7" width="7.0" height="7.0" fill="#0a40f0"/>
<rect x="1386.9" y="435.1" width="7.0" height="7.0" fill="#0a40f0"/>
<rect x="1391.3" y="436.4" width="7.0" height="7.0" fill="#0a40f0"/>
<rect x="1395.6" y="437.6" width="7.0" height="7.0" fill="#0a40f0"/>
<rect x="1400.0" y="438.6" width="7.0" height="7.0" fill="#0a40f0"/>
<rect x="1404.3" y="439.5" width="7.0" height="7.0" fill="#0a40f0"/>
<path d="M975.0,440.0 L979.3,448.2 L970.7,448.2Z" fill="#14b040"/>
<path d="M980.3,430.1 L984.6,438.3 L976.0,438.3Z" fill="#14b040"/>
<path d="M985.6,419.7 L989.9,427.8 L981.3,427.8Z" fill="#14b040"/>
<path d="M990.9,408.2 L995.2,416.4 L986.6,416.4Z" fill="#14b040"/>
<path d="M995.9,395.1 L1000.2,403.3 L991.6,403.3Z" fill="#14b040"/>
<path d="M1001.0,379.4 L1005.3,387.6 L996.7,387.6Z" fill="#14b040"/>
<path d="M1006.1,360.5 L1010.4,368.7 L1001.8,368.7Z" fill="#14b040"/>
<path d="M1011.4,338.4 L1015.7,346.6 L1007.1,346.6Z" fill="#14b040"/>
<path d="M1016.4,314.2 L1020.7,322.3 L1012.1,322.3Z" fill="#14b040"/>
<path d="M1021.0,289.9 L1025.3,298.1 L1016.7,298.1Z" fill="#14b040"/>
<path d="M1025.5,266.3 L1029.8,274.5 L1021.2,274.5Z" fill="#14b040"/>
<path d="M1030.1,243.0 L1034.4,251.2 L1025.8,251.2Z" fill="#14b040"/>
<path d="M1035.4,219.2 L1039.7,227.4 L1031.1,227.4Z" fill="#14b040"/>
<path d="M1040.9,195.2 L1045.2,203.4 L1036.6,203.4Z" fill="#14b040"/>
<path d="M1046.4,170.8 L1050.7,178.9 L1042.1,178.9Z" fill="#14b040"/>
<path d="M1052.6,145.6 L1056.9,153.7 L1048.3,153.7Z" fill="#14b040"/>
<path d="M1058.9,121.1 L1063.2,129.3 L1054.6,129.3Z" fill="#14b040"/>
<path d="M1065.0,98.7 L1069.3,106.8 L1060.7,106.8Z" fill="#14b040"/>
<path d="M1069.5,83.0 L1073.8,91.2 L1065.2,91.2Z" fill="#14b040"/>
<path d="M1074.1,69.3 L1078.4,77.5 L1069.8,77.5Z" fill="#14b040"/>
<path d="M1079.9,54.8 L1084.2,62.9 L1075.6,62.9Z" fill="#14b040"/>
<path d="M1085.7,41.9 L1090.0,50.1 L1081.4,50.1Z" fill="#14b040"/>
<path d="M1091.4,30.9 L1095.7,39.1 L1087.1,39.1Z" fill="#14b040"/>
<path d="M1097.8,23.7 L1102.1,31.9 L1093.5,31.9Z" fill="#14b040"/>
<path d="M1104.0,18.5 L1108.3,26.7 L1099.7,26.7Z" fill="#14b040"/>
<path d="M1109.7,14.9 L1114.0,23.1 L1105.4,23.1Z" fill="#14b040"/>
<path d="M1117.0,11.1 L1121.3,19.3 L1112.7,19.3Z" fill="#14b040"/>
<path d="M1122.0,10.7 L1126.3,18.9 L1117.7,18.9Z" fill="#14b040"/>
<path d="M1127.0,11.9 L1131.3,20.0 L1122.7,20.0Z" fill="#14b040"/>
<path d="M1132.0,14.4 L1136.3,22.6 L1127.7,22.6Z" fill="#14b040"/>
<path d="M1137.0,18.4 L1141.3,26.5 L1132.7,26.5Z" fill="#14b040"/>
<path d="M1142.0,23.5 L1146.3,31.7 L1137.7,31.7Z" fill="#14b040"/>
<path d="M1147.0,29.8 L1151.3,37.9 L1142.7,37.9Z" fill="#14b040"/>
<path d="M1152.0,37.1 L1156.3,45.2 L1147.7,45.2Z" fill="#14b040"/>
<path d="M1157.0,45.3 L1161.3,53.4 L1152.7,53.4Z" fill="#14b040"/>
<path d="M1162.0,54.3 L1166.3,62.5 L1157.7,62.5Z" fill="#14b040"/>
<path d="M1167.0,64.0 L1171.3,72.2 L1162.7,72.2Z" fill="#14b040"/>
<path d="M1172.0,74.4 L1176.3,82.6 L1167.7,82.6Z" fill="#14b040"/>
<path d="M1177.0,85.2 L1181.3,93.4 L1172.7,93.4Z" fill="#14b040"/>
<path d="M1182.0,96.5 L1186.3,104.7 L1177.7,104.7Z" fill="#14b040"/>
<path d="M1187.0,108.0 L1191.3,116.2 L1182.7,116.2Z" fill="#14b040"/>
<path d="M1192.0,119.5 L1196.3,127.7 L1187.7,127.7Z" fill="#14b040"/>
<path d="M1197.0,130.8 L1201.3,139.0 L1192.7,139.0Z" fill="#14b040"/>
<path d="M1202.0,141.8 L1206.3,150.0 L1197.7,150.0Z" fill="#14b040"/>
<path d="M1207.0,152.2 L1211.3,160.4 L1202.7,160.4Z" fill="#14b040"/>
<path d="M1212.0,161.9 L1216.3,170.1 L1207.7,170.1Z" fill="#14b040"/>
<path d="M1217.0,170.8 L1221.3,179.0 L1212.7,179.0Z" fill="#14b040"/>
<path d="M1222.0,179.2 L1226.3,187.4 L1217.7,187.4Z" fill="#14b040"/>
<path d="M1227.0,187.3 L1231.3,195.5 L1222.7,195.5Z" fill="#14b040"/>
<path d="M1232.0,195.3 L1236.3,203.5 L1227.7,203.5Z" fill="#14b040"/>
<path d="M1237.0,203.5 L1241.3,211.7 L1232.7,211.7Z" fill="#14b040"/>
<path d="M1242.0,211.9 L1246.3,220.1 L1237.7,220.1Z" fill="#14b040"/>
<path d="M1247.0,220.6 L1251.3,228.7 L1242.7,228.7Z" fill="#14b040"/>
<path d="M1252.0,229.4 L1256.3,237.6 L1247.7,237.6Z" fill="#14b040"/>
<path d="M1257.0,238.3 L1261.3,246.5 L1252.7,246.5Z" fill="#14b040"/>
<path d="M1262.0,247.4 L1266.3,255.5 L1257.7,255.5Z" fill="#14b040"/>
<path d="M1267.0,256.4 L1271.3,264.6 L1262.7,264.6Z" fill="#14b040"/>
<path d="M1272.0,265.5 L1276.3,273.7 L1267.7,273.7Z" fill="#14b040"/>
<path d="M1277.0,274.5 L1281.3,282.6 L1272.7,282.6Z" fill="#14b040"/>
<path d="M1282.0,283.4 L1286.3,291.5 L1277.7,291.5Z" fill="#14b040"/>
<path d="M1287.0,292.1 L1291.3,300.3 L1282.7,300.3Z" fill="#14b040"/>
<path d="M1292.0,300.7 L1296.3,308.8 L1287.7,308.8Z" fill="#14b040"/>
<path d="M1297.0,309.0 L1301.3,317.1 L1292.7,317.1Z" fill="#14b040"/>
<path d="M1302.0,317.0 L1306.3,325.2 L1297.7,325.2Z" fill="#14b040"/>
<path d="M1307.0,324.8 L1311.3,333.0 L1302.7,333.0Z" fill="#14b040"/>
<path d="M1312.0,332.3 L1316.3,340.4 L1307.7,340.4Z" fill="#14b040"/>
<path d="M1317.0,339.4 L1321.3,347.5 L1312.7,347.5Z" fill="#14b040"/>
<path d="M1322.0,346.1 L1326.3,354.3 L1317.7,354.3Z" fill="#14b040"/>
<path d="M1327.0,352.5 L1331.3,360.7 L1322.7,360.7Z" fill="#14b040"/>
<path d="M1332.0,358.4 L1336.3,366.6 L1327.7,366.6Z" fill="#14b040"/>
<path d="M1337.0,364.0 L1341.3,372.1 L1332.7,372.1Z" fill="#14b040"/>
<path d="M1342.0,369.0 L1346.3,377.2 L1337.7,377.2Z" fill="#14b040"/>
<path d="M1347.0,373.6 L1351.3,381.7 L1342.7,381.7Z" fill="#14b040"/>
<path d="M1352.0,377.6 L1356.3,385.8 L1347.7,385.8Z" fill="#14b040"/>
<path d="M1357.0,381.1 L1361.3,389.3 L1352.7,389.3Z" fill="#14b040"/>
<path d="M1362.0,384.1 L1366.3,392.3 L1357.7,392.3Z" fill="#14b040"/>
<path d="M1367.0,386.8 L1371.3,395.0 L1362.7,395.0Z" fill="#14b040"/>
<path d="M1372.0,389.2 L1376.3,397.4 L1367.7,397.4Z" fill="#14b040"/>
<path d="M1377.0,391.6 L1381.3,399.8 L1372.7,399.8Z" fill="#14b040"/>
<path d="M1382.0,394.0 L1386.3,402.2 L1377.7,402.2Z" fill="#14b040"/>
<path d="M1387.0,396.5 L1391.3,404.7 L1382.7,404.7Z" fill="#14b040"/>
<path d="M1392.0,399.4 L1396.3,407.5 L1387.7,407.5Z" fill="#14b040"/>
<path d="M1397.0,402.6 L1401.3,410.8 L1392.7,410.8Z" fill="#14b040"/>
<path d="M1402.0,406.4 L1406.3,414.5 L1397.7,414.5Z" fill="#14b040"/>
<path d="M1407.0,410.6 L1411.3,418.7 L1402.7,418.7Z" fill="#14b040"/>
<path d="M1412.0,415.1 L1416.3,423.2 L1407.7,423.2Z" fill="#14b040"/>
<path d="M1417.0,419.8 L1421.3,427.9 L1412.7,427.9Z" fill="#14b040"/>
<path d="M1422.0,424.5 L1426.3,432.7 L1417.7,432.7Z" fill="#14b040"/>
<path d="M1427.0,429.1 L1431.3,437.3 L1422.7,437.3Z" fill="#14b040"/>
<path d="M1432.0,433.5 L1436.3,441.7 L1427.7,441.7Z" fill="#14b040"/>
<path d="M1437.0,437.5 L1441.3,445.6 L1432.7,445.6Z" fill="#14b040"/>
<path d="M1442.0,440.6 L1446.3,448.7 L1437.7,448.7Z" fill="#14b040"/>
<path d="M1447.0,440.6 L1451.3,448.7 L1442.7,448.7Z" fill="#14b040"/>
<path d="M1452.0,440.6 L1456.3,448.7 L1447.7,448.7Z" fill="#14b040"/>
<path d="M1457.0,440.6 L1461.3,448.7 L1452.7,448.7Z" fill="#14b040"/>
<path d="M1462.0,440.6 L1466.3,448.7 L1457.7,448.7Z" fill="#14b040"/>
<path d="M1467.0,440.6 L1471.3,448.7 L1462.7,448.7Z" fill="#14b040"/>
<path d="M1472.0,440.6 L1476.3,448.7 L1467.7,448.7Z" fill="#14b040"/>
<circle cx="973.5" cy="445.3" r="3.8" fill="#f46c1c"/>
<circle cx="977.9" cy="436.7" r="3.8" fill="#f46c1c"/>
<circle cx="982.2" cy="427.6" r="3.8" fill="#f46c1c"/>
<circle cx="986.7" cy="417.2" r="3.8" fill="#f46c1c"/>
<circle cx="991.4" cy="404.8" r="3.8" fill="#f46c1c"/>
<circle cx="996.1" cy="390.0" r="3.8" fill="#f46c1c"/>
<circle cx="1000.7" cy="372.1" r="3.8" fill="#f46c1c"/>
<circle cx="1005.3" cy="351.2" r="3.8" fill="#f46c1c"/>
<circle cx="1009.9" cy="327.8" r="3.8" fill="#f46c1c"/>
<circle cx="1014.4" cy="303.3" r="3.8" fill="#f46c1c"/>
<circle cx="1018.8" cy="279.4" r="3.8" fill="#f46c1c"/>
<circle cx="1023.3" cy="255.8" r="3.8" fill="#f46c1c"/>
<circle cx="1028.0" cy="232.1" r="3.8" fill="#f46c1c"/>
<circle cx="1032.8" cy="208.2" r="3.8" fill="#f46c1c"/>
<circle cx="1037.6" cy="184.0" r="3.8" fill="#f46c1c"/>
<circle cx="1042.5" cy="159.5" r="3.8" fill="#f46c1c"/>
<circle cx="1047.3" cy="135.8" r="3.8" fill="#f46c1c"/>
<circle cx="1052.0" cy="114.1" r="3.8" fill="#f46c1c"/>
<circle cx="1056.6" cy="95.1" r="3.8" fill="#f46c1c"/>
<circle cx="1061.2" cy="78.2" r="3.8" fill="#f46c1c"/>
<circle cx="1066.2" cy="63.8" r="3.8" fill="#f46c1c"/>
<circle cx="1071.2" cy="51.2" r="3.8" fill="#f46c1c"/>
<circle cx="1076.2" cy="40.4" r="3.8" fill="#f46c1c"/>
<circle cx="1081.2" cy="31.5" r="3.8" fill="#f46c1c"/>
<circle cx="1086.6" cy="24.9" r="3.8" fill="#f46c1c"/>
<circle cx="1092.1" cy="20.5" r="3.8" fill="#f46c1c"/>
<circle cx="1103.0" cy="16.6" r="3.8" fill="#f46c1c"/>
<circle cx="1107.9" cy="15.8" r="3.8" fill="#f46c1c"/>
<circle cx="1112.8" cy="16.1" r="3.8" fill="#f46c1c"/>
<circle cx="1117.8" cy="17.5" r="3.8" fill="#f46c1c"/>
<circle cx="1122.7" cy="19.8" r="3.8" fill="#f46c1c"/>
<circle cx="1127.6" cy="23.0" r="3.8" fill="#f46c1c"/>
<circle cx="1132.5" cy="27.1" r="3.8" fill="#f46c1c"/>
<circle cx="1137.5" cy="32.0" r="3.8" fill="#f46c1c"/>
<circle cx="1142.4" cy="37.6" r="3.8" fill="#f46c1c"/>
<circle cx="1147.3" cy="43.8" r="3.8" fill="#f46c1c"/>
<circle cx="1152.2" cy="50.6" r="3.8" fill="#f46c1c"/>
<circle cx="1157.2" cy="58.0" r="3.8" fill="#f46c1c"/>
<circle cx="1162.1" cy="65.8" r="3.8" fill="#f46c1c"/>
<circle cx="1167.0" cy="74.0" r="3.8" fill="#f46c1c"/>
<circle cx="1171.9" cy="82.5" r="3.8" fill="#f46c1c"/>
<circle cx="1176.9" cy="91.3" r="3.8" fill="#f46c1c"/>
<circle cx="1181.8" cy="100.3" r="3.8" fill="#f46c1c"/>
<circle cx="1186.7" cy="109.4" r="3.8" fill="#f46c1c"/>
<circle cx="1191.6" cy="118.6" r="3.8" fill="#f46c1c"/>
<circle cx="1196.6" cy="127.8" r="3.8" fill="#f46c1c"/>
<circle cx="1201.5" cy="136.9" r="3.8" fill="#f46c1c"/>
<circle cx="1206.4" cy="146.0" r="3.8" fill="#f46c1c"/>
<circle cx="1211.3" cy="155.0" r="3.8" fill="#f46c1c"/>
<circle cx="1216.3" cy="163.9" r="3.8" fill="#f46c1c"/>
<circle cx="1221.2" cy="172.7" r="3.8" fill="#f46c1c"/>
<circle cx="1226.1" cy="181.4" r="3.8" fill="#f46c1c"/>
<circle cx="1231.0" cy="190.1" r="3.8" fill="#f46c1c"/>
<circle cx="1236.0" cy="198.6" r="3.8" fill="#f46c1c"/>
<circle cx="1240.9" cy="207.1" r="3.8" fill="#f46c1c"/>
<circle cx="1245.8" cy="215.5" r="3.8" fill="#f46c1c"/>
<circle cx="1250.7" cy="223.7" r="3.8" fill="#f46c1c"/>
<circle cx="1255.7" cy="231.9" r="3.8" fill="#f46c1c"/>
<circle cx="1260.6" cy="240.0" r="3.8" fill="#f46c1c"/>
<circle cx="1265.5" cy="247.9" r="3.8" fill="#f46c1c"/>
<circle cx="1270.4" cy="255.8" r="3.8" fill="#f46c1c"/>
<circle cx="1275.4" cy="263.5" r="3.8" fill="#f46c1c"/>
<circle cx="1280.3" cy="271.1" r="3.8" fill="#f46c1c"/>
<circle cx="1285.2" cy="278.6" r="3.8" fill="#f46c1c"/>
<circle cx="1290.1" cy="286.0" r="3.8" fill="#f46c1c"/>
<circle cx="1295.1" cy="293.2" r="3.8" fill="#f46c1c"/>
<circle cx="1300.0" cy="300.3" r="3.8" fill="#f46c1c"/>
<circle cx="1304.9" cy="307.3" r="3.8" fill="#f46c1c"/>
<circle cx="1309.8" cy="314.1" r="3.8" fill="#f46c1c"/>
<circle cx="1314.8" cy="320.8" r="3.8" fill="#f46c1c"/>
<circle cx="1319.7" cy="327.4" r="3.8" fill="#f46c1c"/>
<circle cx="1324.6" cy="333.8" r="3.8" fill="#f46c1c"/>
<circle cx="1329.5" cy="340.0" r="3.8" fill="#f46c1c"/>
<circle cx="1334.5" cy="346.1" r="3.8" fill="#f46c1c"/>
<circle cx="1339.4" cy="352.1" r="3.8" fill="#f46c1c"/>
<circle cx="1344.3" cy="357.9" r="3.8" fill="#f46c1c"/>
<circle cx="1349.2" cy="363.5" r="3.8" fill="#f46c1c"/>
<circle cx="1354.2" cy="369.0" r="3.8" fill="#f46c1c"/>
<circle cx="1359.1" cy="374.3" r="3.8" fill="#f46c1c"/>
<circle cx="1364.0" cy="379.4" r="3.8" fill="#f46c1c"/>
<circle cx="1368.9" cy="384.3" r="3.8" fill="#f46c1c"/>
<circle cx="1373.9" cy="389.1" r="3.8" fill="#f46c1c"/>
<circle cx="1378.8" cy="393.7" r="3.8" fill="#f46c1c"/>
<circle cx="1383.7" cy="398.1" r="3.8" fill="#f46c1c"/>
<circle cx="1388.6" cy="402.3" r="3.8" fill="#f46c1c"/>
<circle cx="1393.6" cy="406.3" r="3.8" fill="#f46c1c"/>
<circle cx="1398.5" cy="410.2" r="3.8" fill="#f46c1c"/>
<circle cx="1403.4" cy="413.8" r="3.8" fill="#f46c1c"/>
<circle cx="1408.3" cy="417.3" r="3.8" fill="#f46c1c"/>
<circle cx="1413.3" cy="420.5" r="3.8" fill="#f46c1c"/>
<circle cx="1418.2" cy="423.5" r="3.8" fill="#f46c1c"/>
<circle cx="1423.1" cy="426.4" r="3.8" fill="#f46c1c"/>
<circle cx="1428.0" cy="429.0" r="3.8" fill="#f46c1c"/>
<circle cx="1433.0" cy="431.4" r="3.8" fill="#f46c1c"/>
<circle cx="1437.9" cy="433.5" r="3.8" fill="#f46c1c"/>
<circle cx="1442.8" cy="435.5" r="3.8" fill="#f46c1c"/>
<circle cx="1447.7" cy="437.2" r="3.8" fill="#f46c1c"/>
<circle cx="1452.7" cy="438.7" r="3.8" fill="#f46c1c"/>
<circle cx="1457.6" cy="440.0" r="3.8" fill="#f46c1c"/>
<circle cx="1462.5" cy="441.1" r="3.8" fill="#f46c1c"/>
<circle cx="1467.4" cy="441.9" r="3.8" fill="#f46c1c"/>
<path d="M974.0,440.4 L978.4,444.8 L974.0,449.2 L969.6,444.8Z" fill="#f84cf0"/>
<path d="M978.8,431.2 L983.1,435.6 L978.8,440.0 L974.4,435.6Z" fill="#f84cf0"/>
<path d="M983.5,421.5 L987.9,425.9 L983.5,430.3 L979.1,425.9Z" fill="#f84cf0"/>
<path d="M988.2,410.7 L992.6,415.0 L988.2,419.4 L983.9,415.0Z" fill="#f84cf0"/>
<path d="M993.0,397.9 L997.4,402.2 L993.0,406.6 L988.6,402.2Z" fill="#f84cf0"/>
<path d="M997.8,382.5 L1002.1,386.9 L997.8,391.3 L993.4,386.9Z" fill="#f84cf0"/>
<path d="M1002.5,364.0 L1006.9,368.4 L1002.5,372.7 L998.1,368.4Z" fill="#f84cf0"/>
<path d="M1007.2,342.4 L1011.6,346.8 L1007.2,351.1 L1002.9,346.8Z" fill="#f84cf0"/>
<path d="M1012.0,318.6 L1016.4,323.0 L1012.0,327.3 L1007.6,323.0Z" fill="#f84cf0"/>
<path d="M1016.8,294.7 L1021.1,299.1 L1016.8,303.4 L1012.4,299.1Z" fill="#f84cf0"/>
<path d="M1021.5,271.4 L1025.9,275.7 L1021.5,280.1 L1017.1,275.7Z" fill="#f84cf0"/>
<path d="M1026.2,248.4 L1030.6,252.7 L1026.2,257.1 L1021.9,252.7Z" fill="#f84cf0"/>
<path d="M1031.0,225.5 L1035.4,229.8 L1031.0,234.2 L1026.6,229.8Z" fill="#f84cf0"/>
<path d="M1035.8,202.4 L1040.1,206.8 L1035.8,211.1 L1031.4,206.8Z" fill="#f84cf0"/>
<path d="M1040.5,179.0 L1044.9,183.3 L1040.5,187.7 L1036.1,183.3Z" fill="#f84cf0"/>
<path d="M1045.2,155.3 L1049.6,159.7 L1045.2,164.1 L1040.9,159.7Z" fill="#f84cf0"/>
<path d="M1050.0,132.5 L1054.4,136.8 L1050.0,141.2 L1045.6,136.8Z" fill="#f84cf0"/>
<path d="M1054.8,111.5 L1059.1,115.8 L1054.8,120.2 L1050.4,115.8Z" fill="#f84cf0"/>
<path d="M1059.5,92.7 L1063.9,97.1 L1059.5,101.4 L1055.1,97.1Z" fill="#f84cf0"/>
<path d="M1064.2,76.0 L1068.6,80.4 L1064.2,84.8 L1059.9,80.4Z" fill="#f84cf0"/>
<path d="M1069.0,61.3 L1073.4,65.7 L1069.0,70.0 L1064.6,65.7Z" fill="#f84cf0"/>
<path d="M1073.8,48.4 L1078.1,52.8 L1073.8,57.1 L1069.4,52.8Z" fill="#f84cf0"/>
<path d="M1078.5,37.3 L1082.9,41.7 L1078.5,46.1 L1074.1,41.7Z" fill="#f84cf0"/>
<path d="M1083.2,28.2 L1087.6,32.6 L1083.2,37.0 L1078.9,32.6Z" fill="#f84cf0"/>
<path d="M1088.0,21.3 L1092.4,25.6 L1088.0,30.0 L1083.6,25.6Z" fill="#f84cf0"/>
<path d="M1092.8,16.5 L1097.1,20.9 L1092.8,25.2 L1088.4,20.9Z" fill="#f84cf0"/>
<path d="M1101.5,13.0 L1105.9,17.3 L1101.5,21.7 L1097.1,17.3Z" fill="#f84cf0"/>
<path d="M1106.2,13.1 L1110.6,17.5 L1106.2,21.9 L1101.9,17.5Z" fill="#f84cf0"/>
<path d="M1111.0,14.4 L1115.4,18.7 L1111.0,23.1 L1106.6,18.7Z" fill="#f84cf0"/>
<path d="M1115.8,16.6 L1120.1,21.0 L1115.8,25.3 L1111.4,21.0Z" fill="#f84cf0"/>
<path d="M1120.5,19.7 L1124.9,24.1 L1120.5,28.5 L1116.1,24.1Z" fill="#f84cf0"/>
<path d="M1125.2,23.7 L1129.6,28.1 L1125.2,32.5 L1120.9,28.1Z" fill="#f84cf0"/>
<path d="M1130.0,28.5 L1134.4,32.9 L1130.0,37.2 L1125.6,32.9Z" fill="#f84cf0"/>
<path d="M1134.8,34.0 L1139.1,38.3 L1134.8,42.7 L1130.4,38.3Z" fill="#f84cf0"/>
<path d="M1139.5,40.0 L1143.9,44.4 L1139.5,48.8 L1135.1,44.4Z" fill="#f84cf0"/>
<path d="M1144.2,46.7 L1148.6,51.1 L1144.2,55.4 L1139.9,51.1Z" fill="#f84cf0"/>
<path d="M1149.0,53.8 L1153.4,58.2 L1149.0,62.5 L1144.6,58.2Z" fill="#f84cf0"/>
<path d="M1153.8,61.3 L1158.1,65.7 L1153.8,70.0 L1149.4,65.7Z" fill="#f84cf0"/>
<path d="M1158.5,69.1 L1162.9,73.5 L1158.5,77.9 L1154.1,73.5Z" fill="#f84cf0"/>
<path d="M1163.2,77.2 L1167.6,81.6 L1163.2,86.0 L1158.9,81.6Z" fill="#f84cf0"/>
<path d="M1168.0,85.5 L1172.4,89.9 L1168.0,94.2 L1163.6,89.9Z" fill="#f84cf0"/>
<path d="M1172.8,93.9 L1177.1,98.2 L1172.8,102.6 L1168.4,98.2Z" fill="#f84cf0"/>
<path d="M1177.5,102.3 L1181.9,106.7 L1177.5,111.0 L1173.1,106.7Z" fill="#f84cf0"/>
<path d="M1182.2,110.8 L1186.6,115.2 L1182.2,119.5 L1177.9,115.2Z" fill="#f84cf0"/>
<path d="M1187.0,119.4 L1191.4,123.8 L1187.0,128.1 L1182.6,123.8Z" fill="#f84cf0"/>
<path d="M1191.8,128.1 L1196.1,132.4 L1191.8,136.8 L1187.4,132.4Z" fill="#f84cf0"/>
<path d="M1196.5,136.8 L1200.9,141.2 L1196.5,145.6 L1192.1,141.2Z" fill="#f84cf0"/>
<path d="M1201.2,145.7 L1205.6,150.1 L1201.2,154.5 L1196.9,150.1Z" fill="#f84cf0"/>
<path d="M1206.0,154.8 L1210.4,159.1 L1206.0,163.5 L1201.6,159.1Z" fill="#f84cf0"/>
<path d="M1210.8,163.9 L1215.1,168.3 L1210.8,172.7 L1206.4,168.3Z" fill="#f84cf0"/>
<path d="M1215.5,173.2 L1219.9,177.6 L1215.5,182.0 L1211.1,177.6Z" fill="#f84cf0"/>
<path d="M1220.2,182.7 L1224.6,187.1 L1220.2,191.4 L1215.9,187.1Z" fill="#f84cf0"/>
<path d="M1225.0,192.3 L1229.4,196.7 L1225.0,201.1 L1220.6,196.7Z" fill="#f84cf0"/>
<path d="M1229.8,202.1 L1234.1,206.5 L1229.8,210.9 L1225.4,206.5Z" fill="#f84cf0"/>
<path d="M1234.5,212.0 L1238.9,216.4 L1234.5,220.8 L1230.1,216.4Z" fill="#f84cf0"/>
<path d="M1239.2,222.0 L1243.6,226.4 L1239.2,230.8 L1234.9,226.4Z" fill="#f84cf0"/>
<path d="M1244.0,232.0 L1248.4,236.4 L1244.0,240.7 L1239.6,236.4Z" fill="#f84cf0"/>
<path d="M1248.8,241.9 L1253.1,246.3 L1248.8,250.7 L1244.4,246.3Z" fill="#f84cf0"/>
<path d="M1253.5,251.8 L1257.9,256.1 L1253.5,260.5 L1249.1,256.1Z" fill="#f84cf0"/>
<path d="M1258.2,261.5 L1262.6,265.8 L1258.2,270.2 L1253.9,265.8Z" fill="#f84cf0"/>
<path d="M1263.0,271.0 L1267.4,275.3 L1263.0,279.7 L1258.6,275.3Z" fill="#f84cf0"/>
<path d="M1267.8,280.2 L1272.1,284.6 L1267.8,288.9 L1263.4,284.6Z" fill="#f84cf0"/>
<path d="M1272.5,289.1 L1276.9,293.5 L1272.5,297.9 L1268.1,293.5Z" fill="#f84cf0"/>
<path d="M1277.2,297.7 L1281.6,302.1 L1277.2,306.5 L1272.9,302.1Z" fill="#f84cf0"/>
<path d="M1282.0,305.9 L1286.4,310.3 L1282.0,314.6 L1277.6,310.3Z" fill="#f84cf0"/>
<path d="M1286.8,313.7 L1291.1,318.1 L1286.8,322.4 L1282.4,318.1Z" fill="#f84cf0"/>
<path d="M1291.5,321.1 L1295.9,325.5 L1291.5,329.8 L1287.1,325.5Z" fill="#f84cf0"/>
<path d="M1296.2,328.1 L1300.6,332.5 L1296.2,336.9 L1291.9,332.5Z" fill="#f84cf0"/>
<path d="M1301.0,334.8 L1305.4,339.2 L1301.0,343.5 L1296.6,339.2Z" fill="#f84cf0"/>
<path d="M1305.8,341.1 L1310.1,345.5 L1305.8,349.9 L1301.4,345.5Z" fill="#f84cf0"/>
<path d="M1310.5,347.2 L1314.9,351.5 L1310.5,355.9 L1306.1,351.5Z" fill="#f84cf0"/>
<path d="M1315.2,352.8 L1319.6,357.2 L1315.2,361.6 L1310.9,357.2Z" fill="#f84cf0"/>
<path d="M1320.0,358.2 L1324.4,362.6 L1320.0,367.0 L1315.6,362.6Z" fill="#f84cf0"/>
<path d="M1324.8,363.4 L1329.1,367.7 L1324.8,372.1 L1320.4,367.7Z" fill="#f84cf0"/>
<path d="M1329.5,368.2 L1333.9,372.6 L1329.5,376.9 L1325.1,372.6Z" fill="#f84cf0"/>
<path d="M1334.2,372.8 L1338.6,377.1 L1334.2,381.5 L1329.9,377.1Z" fill="#f84cf0"/>
<path d="M1339.0,377.1 L1343.4,381.5 L1339.0,385.8 L1334.6,381.5Z" fill="#f84cf0"/>
<path d="M1343.8,381.2 L1348.1,385.6 L1343.8,389.9 L1339.4,385.6Z" fill="#f84cf0"/>
<path d="M1348.5,385.1 L1352.9,389.4 L1348.5,393.8 L1344.1,389.4Z" fill="#f84cf0"/>
<path d="M1353.2,388.7 L1357.6,393.1 L1353.2,397.5 L1348.9,393.1Z" fill="#f84cf0"/>
<path d="M1358.0,392.2 L1362.4,396.6 L1358.0,400.9 L1353.6,396.6Z" fill="#f84cf0"/>
<path d="M1362.8,395.5 L1367.1,399.9 L1362.8,404.2 L1358.4,399.9Z" fill="#f84cf0"/>
<path d="M1367.5,398.6 L1371.9,403.0 L1367.5,407.4 L1363.1,403.0Z" fill="#f84cf0"/>
<path d="M1372.2,401.6 L1376.6,406.0 L1372.2,410.3 L1367.9,406.0Z" fill="#f84cf0"/>
<path d="M1377.0,404.4 L1381.4,408.8 L1377.0,413.2 L1372.6,408.8Z" fill="#f84cf0"/>
<path d="M1381.8,407.2 L1386.1,411.5 L1381.8,415.9 L1377.4,411.5Z" fill="#f84cf0"/>
<path d="M1386.5,409.8 L1390.9,414.1 L1386.5,418.5 L1382.1,414.1Z" fill="#f84cf0"/>
<path d="M1391.2,412.3 L1395.6,416.6 L1391.2,421.0 L1386.9,416.6Z" fill="#f84cf0"/>
<path d="M1396.0,414.7 L1400.4,419.1 L1396.0,423.4 L1391.6,419.1Z" fill="#f84cf0"/>
<path d="M1400.8,417.0 L1405.1,421.4 L1400.8,425.8 L1396.4,421.4Z" fill="#f84cf0"/>
<path d="M1405.5,419.3 L1409.9,423.7 L1405.5,428.1 L1401.1,423.7Z" fill="#f84cf0"/>
<path d="M1410.2,421.6 L1414.6,425.9 L1410.2,430.3 L1405.9,425.9Z" fill="#f84cf0"/>
<path d="M1415.0,423.8 L1419.4,428.2 L1415.0,432.5 L1410.6,428.2Z" fill="#f84cf0"/>
<path d="M1419.8,426.0 L1424.1,430.4 L1419.8,434.7 L1415.4,430.4Z" fill="#f84cf0"/>
<path d="M1424.5,428.2 L1428.9,432.6 L1424.5,436.9 L1420.1,432.6Z" fill="#f84cf0"/>
<path d="M1429.2,430.4 L1433.6,434.8 L1429.2,439.1 L1424.9,434.8Z" fill="#f84cf0"/>
<path d="M1434.0,432.6 L1438.4,437.0 L1434.0,441.4 L1429.6,437.0Z" fill="#f84cf0"/>
<path d="M1438.8,434.9 L1443.1,439.3 L1438.8,443.6 L1434.4,439.3Z" fill="#f84cf0"/>
<path d="M1443.5,437.2 L1447.9,441.6 L1443.5,446.0 L1439.1,441.6Z" fill="#f84cf0"/>
<path d="M1448.2,439.6 L1452.6,444.0 L1448.2,448.4 L1443.9,444.0Z" fill="#f84cf0"/>
<path d="M1453.0,440.9 L1457.4,445.3 L1453.0,449.7 L1448.6,445.3Z" fill="#f84cf0"/>
<g stroke="#1e1e1e" stroke-width="1.9" fill="none">
<path d="M974.4,15.4 V455.6 M963.3,445.3 H1500"/>
<path d="M963.3,15.4 H974.4"/>
<path d="M963.3,101.3 H974.4"/>
<path d="M963.3,187.2 H974.4"/>
<path d="M963.3,273.1 H974.4"/>
<path d="M963.3,359.0 H974.4"/>
<path d="M963.3,444.9 H974.4"/>
<path d="M974.2,445.3 V455.6"/>
<path d="M1099.4,445.3 V455.6"/>
<path d="M1224.5,445.3 V455.6"/>
<path d="M1349.7,445.3 V455.6"/>
<path d="M1474.8,445.3 V455.6"/>
</g>
<path d="M600.0,613.3 L601.0,613.6 L602.0,613.8 L603.0,614.1 L604.0,614.4 L605.0,614.7 L606.0,615.1 L607.0,615.4 L608.0,615.8 L609.0,616.2 L610.0,616.6 L611.0,617.0 L612.0,617.4 L613.0,617.8 L614.0,618.2 L615.0,618.7 L616.0,619.1 L617.0,619.6 L618.0,620.0 L619.0,620.5 L620.0,621.0 L621.0,621.5 L622.0,622.0 L623.0,622.5 L624.0,623.1 L625.0,623.6 L626.0,624.2 L627.0,624.8 L628.0,625.5 L629.0,626.1 L630.0,626.8 L631.0,627.5 L632.0,628.2 L633.0,629.0 L634.0,629.7 L635.0,630.6 L636.0,631.5 L637.0,632.5 L638.0,633.6 L639.0,634.6 L640.0,635.5 L641.0,636.4 L642.0,637.3 L643.0,638.1 L644.0,639.0 L645.0,639.8 L646.0,640.6 L647.0,641.4 L648.0,642.3 L649.0,643.1 L650.0,643.9 L651.0,644.8 L652.0,645.7 L653.0,646.6 L654.0,647.6 L655.0,648.6 L656.0,649.6 L657.0,650.7 L658.0,651.7 L659.0,652.8 L660.0,653.9 L661.0,655.0 L662.0,656.0 L663.0,657.1 L664.0,658.1 L665.0,659.2 L666.0,660.2 L667.0,661.3 L668.0,662.3 L669.0,663.4 L670.0,664.6 L671.0,665.7 L672.0,666.9 L673.0,668.2 L674.0,669.5 L675.0,670.9 L676.0,672.4 L677.0,673.8 L678.0,675.3 L679.0,676.7 L680.0,678.1 L681.0,679.5 L682.0,681.0 L683.0,682.4 L684.0,683.8 L685.0,685.2 L686.0,686.7 L687.0,688.1 L688.0,689.4 L689.0,690.8 L690.0,692.1 L691.0,693.4 L692.0,694.6 L693.0,695.8 L694.0,697.0 L695.0,698.2 L696.0,699.4 L697.0,700.7 L698.0,702.1 L699.0,703.6 L700.0,705.1 L701.0,706.7 L702.0,708.3 L703.0,709.9 L704.0,711.5 L705.0,713.2 L706.0,714.9 L707.0,716.7 L708.0,718.5 L709.0,720.2 L710.0,722.0 L711.0,723.6 L712.0,725.2 L713.0,726.6 L714.0,728.0 L715.0,729.4 L716.0,730.7 L717.0,732.1 L718.0,733.4 L719.0,734.8 L720.0,736.2 L721.0,737.6 L722.0,738.9 L723.0,740.3 L724.0,741.7 L725.0,743.2 L726.0,744.7 L727.0,746.3 L728.0,748.0 L729.0,749.7 L730.0,751.5 L731.0,753.2 L732.0,754.9 L733.0,756.6 L734.0,758.2 L735.0,759.9 L736.0,761.6 L737.0,763.2 L738.0,764.7 L739.0,766.1 L740.0,767.3 L741.0,768.5 L742.0,769.6 L743.0,770.7 L744.0,771.7 L745.0,772.7 L746.0,773.7 L747.0,774.6 L748.0,775.5 L749.0,776.4 L750.0,777.4 L751.0,778.3 L752.0,779.3 L753.0,780.3 L754.0,781.3 L755.0,782.5 L756.0,783.7 L757.0,785.1 L758.0,786.4 L759.0,787.6 L760.0,788.5 L761.0,789.2 L762.0,789.9 L763.0,790.5 L764.0,791.1 L765.0,791.6 L766.0,792.1 L767.0,792.6 L768.0,793.0 L769.0,793.4 L770.0,793.8 L771.0,794.3 L772.0,794.7 L773.0,795.0 L774.0,795.4 L775.0,795.8 L776.0,796.1 L777.0,796.4 L778.0,796.7 L779.0,796.9 L780.0,797.2 L781.0,797.3 L782.0,797.5 L783.0,797.6 L784.0,797.7 L785.0,797.8 L786.0,797.9 L787.0,798.0 L788.0,798.1 L789.0,798.2 L790.0,798.2 L791.0,798.3 L792.0,798.4 L793.0,798.5 L794.0,798.5 L795.0,798.6 L796.0,798.7 L797.0,798.8 L798.0,798.9 L799.0,799.0 L800.0,799.1 L801.0,799.3 L802.0,799.5 L803.0,799.7 L804.0,799.9 L805.0,800.2 L806.0,800.4 L807.0,800.7 L808.0,801.1 L809.0,801.4 L810.0,801.8 L811.0,802.2 L812.0,802.5 L813.0,802.9 L814.0,803.4 L815.0,803.8 L816.0,804.2 L817.0,804.6 L818.0,805.1 L819.0,805.5 L820.0,806.0 L821.0,806.4 L822.0,806.8 L823.0,807.3 L824.0,807.7 L825.0,808.1 L826.0,808.6 L827.0,809.0 L828.0,809.4 L829.0,809.9 L830.0,810.3 L831.0,810.8 L832.0,811.3 L833.0,811.7 L834.0,812.2 L835.0,812.7 L836.0,813.2 L837.0,813.7 L838.0,814.2 L839.0,814.8 L840.0,815.3 L841.0,815.9 L842.0,816.4 L843.0,817.0 L844.0,817.6 L845.0,818.2 L846.0,818.8 L847.0,819.5 L848.0,820.1 L849.0,820.8 L850.0,821.5 L851.0,822.3 L852.0,823.0 L853.0,823.8 L854.0,824.6 L855.0,825.4 L856.0,826.2 L857.0,827.0 L858.0,827.8 L859.0,828.7 L860.0,829.5 L861.0,830.4 L862.0,831.3 L863.0,832.2 L864.0,833.1 L865.0,834.0 L866.0,834.9 L867.0,835.8 L868.0,836.7 L869.0,837.7 L870.0,838.6 L871.0,839.6 L872.0,840.6 L873.0,841.6 L874.0,842.7 L875.0,843.7 L876.0,844.8 L877.0,845.9 L878.0,847.0 L879.0,848.1 L880.0,849.1 L881.0,850.2 L882.0,851.3 L883.0,852.4 L884.0,853.5 L885.0,854.6 L886.0,855.7 L887.0,856.8 L888.0,857.9 L889.0,859.0 L890.0,860.1 L891.0,861.3 L892.0,862.5 L893.0,863.7 L894.0,864.9 L895.0,866.1 L896.0,867.3 L897.0,868.5 L898.0,869.8 L899.0,871.0 L900.0,872.1 L901.0,873.3 L902.0,874.4 L903.0,875.5 L904.0,876.6 L905.0,877.6 L906.0,878.6 L907.0,879.5 L908.0,880.3 L909.0,881.1 L910.0,881.8 L911.0,882.5 L912.0,883.1 L913.0,883.7 L914.0,884.3 L915.0,884.9 L916.0,885.5 L917.0,886.0 L918.0,886.5 L919.0,887.0 L920.0,887.5 L921.0,888.0 L922.0,888.5 L923.0,889.0 L924.0,889.5 L925.0,889.9 L926.0,890.4 L927.0,890.9 L928.0,891.4 L929.0,891.9 L930.0,892.4 L931.0,892.9 L932.0,893.4 L933.0,893.9 L934.0,894.5 L935.0,895.0 L936.0,895.5 L937.0,896.0 L938.0,896.5 L939.0,897.0 L940.0,897.5 L941.0,898.0 L942.0,898.5 L943.0,899.0 L944.0,899.5 L945.0,900.0 L946.0,900.5 L947.0,901.0 L948.0,901.5 L949.0,901.9 L950.0,902.4 L951.0,902.9 L952.0,903.4 L953.0,903.9 L954.0,904.4 L955.0,904.8 L956.0,905.3 L957.0,905.8 L958.0,906.3 L959.0,906.7 L960.0,907.2 L961.0,907.7 L962.0,908.2 L963.0,908.6 L964.0,909.1 L965.0,909.5 L966.0,910.0 L967.0,910.5 L968.0,910.9 L969.0,911.4 L970.0,911.8 L971.0,912.3 L972.0,912.7 L973.0,913.2 L974.0,913.7 L975.0,914.1 L976.0,914.6 L977.0,915.0 L978.0,915.5 L979.0,915.9 L980.0,916.4 L981.0,916.8 L982.0,917.3 L983.0,917.7 L984.0,918.2 L985.0,918.6 L986.0,919.1 L987.0,919.5 L988.0,920.0 L989.0,920.4 L990.0,920.8 L991.0,921.3 L992.0,921.7 L993.0,922.2 L994.0,922.6 L995.0,923.0 L996.0,923.5 L997.0,923.9 L998.0,924.3 L999.0,924.8 L1000.0,925.2 L1001.0,925.6 L1002.0,926.1 L1003.0,926.5 L1004.0,926.9 L1005.0,927.3 L1006.0,927.8 L1007.0,928.2 L1008.0,928.6 L1009.0,929.0 L1010.0,929.4 L1011.0,929.8 L1012.0,930.2 L1013.0,930.7 L1014.0,931.1 L1015.0,931.5 L1016.0,931.9 L1017.0,932.3 L1018.0,932.7 L1019.0,933.1 L1020.0,933.5 L1021.0,933.8 L1022.0,934.2 L1023.0,934.6 L1024.0,935.0 L1025.0,935.4 L1026.0,935.8 L1027.0,936.1 L1028.0,936.5 L1029.0,936.9 L1030.0,937.3 L1031.0,937.6 L1032.0,938.0 L1033.0,938.4 L1034.0,938.7 L1035.0,939.1 L1036.0,939.4 L1037.0,939.8 L1038.0,940.2 L1039.0,940.5 L1040.0,940.9 L1041.0,941.2 L1042.0,941.6 L1043.0,941.9 L1044.0,942.2 L1045.0,942.6 L1046.0,942.9 L1047.0,943.3 L1048.0,943.6 L1049.0,943.9 L1050.0,944.3 L1051.0,944.6 L1052.0,944.9 L1053.0,945.3 L1054.0,945.6 L1055.0,945.9 L1056.0,946.3 L1057.0,946.6 L1058.0,946.9 L1059.0,947.2 L1060.0,947.6 L1061.0,947.9 L1062.0,948.2 L1063.0,948.5 L1064.0,948.8 L1065.0,949.2 L1066.0,949.5 L1067.0,949.8 L1068.0,950.1 L1069.0,950.4 L1070.0,950.7 L1071.0,951.0 L1072.0,951.3 L1073.0,951.6 L1074.0,951.9 L1075.0,952.2 L1076.0,952.5 L1077.0,952.9 L1078.0,953.2 L1079.0,953.5 L1080.0,953.8 L1081.0,954.1 L1082.0,954.4 L1083.0,954.6 L1084.0,954.9 L1085.0,955.2 L1086.0,955.5 L1087.0,955.8 L1088.0,956.1 L1089.0,956.4 L1090.0,956.7 L1091.0,957.0 L1092.0,957.3 L1093.0,957.6 L1094.0,957.9 L1095.0,958.1 L1096.0,958.4 L1097.0,958.7 L1098.0,959.0 L1099.0,959.3 L1100.0,959.6 L1101.0,959.8 L1102.0,960.1 L1103.0,960.4 L1104.0,960.7 L1105.0,960.9 L1106.0,961.2 L1107.0,961.5 L1108.0,961.7 L1109.0,962.0 L1110.0,962.2 L1111.0,962.5 L1112.0,962.7 L1113.0,963.0 L1114.0,963.2 L1115.0,963.5 L1116.0,963.7 L1117.0,964.0 L1118.0,964.2 L1119.0,964.5 L1120.0,964.7 L1121.0,965.0 L1122.0,965.2 L1123.0,965.4 L1124.0,965.7 L1125.0,965.9 L1126.0,966.2 L1127.0,966.4 L1128.0,966.6 L1129.0,966.9 L1130.0,967.1 L1131.0,967.4 L1132.0,967.6 L1133.0,967.8 L1134.0,968.1 L1135.0,968.3 L1136.0,968.6 L1137.0,968.8 L1138.0,969.1 L1139.0,969.3 L1140.0,969.5 L1141.0,969.8 L1142.0,970.0 L1143.0,970.3 L1144.0,970.5 L1145.0,970.8 L1146.0,971.0 L1147.0,971.3 L1148.0,971.6 L1149.0,971.8 L1150.0,972.1 L1151.0,972.3 L1152.0,972.6 L1153.0,972.9 L1154.0,973.1 L1155.0,973.4 L1156.0,973.7 L1157.0,974.0 L1158.0,974.3 L1159.0,974.5 L1160.0,974.8 L1161.0,975.1 L1162.0,975.4 L1163.0,975.7 L1164.0,976.0 L1165.0,976.3 L1166.0,976.6 L1167.0,976.9 L1168.0,977.2 L1169.0,977.5 L1170.0,977.9 L1171.0,978.2 L1172.0,978.5 L1173.0,978.8 L1174.0,979.1 L1175.0,979.5 L1176.0,979.8 L1177.0,980.1 L1178.0,980.5 L1179.0,980.8 L1180.0,981.1 L1181.0,981.5 L1182.0,981.8 L1183.0,982.2 L1184.0,982.5 L1185.0,982.9 L1186.0,983.2 L1187.0,983.6 L1188.0,983.9 L1189.0,984.3 L1190.0,984.6 L1191.0,985.0 L1192.0,985.4 L1193.0,985.7 L1194.0,986.1 L1195.0,986.5 L1196.0,986.8 L1197.0,987.2 L1198.0,987.6 L1199.0,988.0 L1200.0,988.3 L1201.0,988.7 L1202.0,989.1 L1203.0,989.5 L1204.0,989.9 L1205.0,990.2 L1206.0,990.6 L1207.0,991.0 L1208.0,991.4 L1209.0,991.8 L1210.0,992.2 L1211.0,992.6 L1212.0,993.0 L1213.0,993.4 L1214.0,993.8" fill="none" stroke="#22cc33" stroke-width="2" stroke-dasharray="6 3.2"/>
<path d="M600.0,613.3 L601.0,613.6 L602.0,613.8 L603.0,614.1 L604.0,614.4 L605.0,614.7 L606.0,615.1 L607.0,615.4 L608.0,615.8 L609.0,616.2 L610.0,616.6 L611.0,617.0 L612.0,617.4 L613.0,617.8 L614.0,618.2 L615.0,618.7 L616.0,619.1 L617.0,619.6 L618.0,620.0 L619.0,620.5 L620.0,621.0 L621.0,621.5 L622.0,622.0 L623.0,622.5 L624.0,623.1 L625.0,623.6 L626.0,624.2 L627.0,624.8 L628.0,625.4 L629.0,626.1 L630.0,626.8 L631.0,627.5 L632.0,628.2 L633.0,629.0 L634.0,629.7 L635.0,630.7 L636.0,631.7 L637.0,632.8 L638.0,633.9 L639.0,634.9 L640.0,635.9 L641.0,636.8 L642.0,637.7 L643.0,638.5 L644.0,639.4 L645.0,640.2 L646.0,641.0 L647.0,641.8 L648.0,642.6 L649.0,643.4 L650.0,644.2 L651.0,645.0 L652.0,645.9 L653.0,646.8 L654.0,647.8 L655.0,648.8 L656.0,649.8 L657.0,650.9 L658.0,652.0 L659.0,653.1 L660.0,654.2 L661.0,655.3 L662.0,656.3 L663.0,657.4 L664.0,658.4 L665.0,659.5 L666.0,660.5 L667.0,661.6 L668.0,662.7 L669.0,663.7 L670.0,664.9 L671.0,666.0 L672.0,667.2 L673.0,668.5 L674.0,669.9 L675.0,671.3 L676.0,672.7 L677.0,674.2 L678.0,675.7 L679.0,677.0 L680.0,678.3 L681.0,679.6 L682.0,680.9 L683.0,682.1 L684.0,683.3 L685.0,684.5 L686.0,685.7 L687.0,686.9 L688.0,688.1 L689.0,689.2 L690.0,690.4 L691.0,691.6 L692.0,692.8 L693.0,694.0 L694.0,695.2 L695.0,696.5 L696.0,697.7 L697.0,699.0 L698.0,700.4 L699.0,701.8 L700.0,703.2 L701.0,704.6 L702.0,706.0 L703.0,707.5 L704.0,708.9 L705.0,710.3 L706.0,711.6 L707.0,713.0 L708.0,714.4 L709.0,715.7 L710.0,717.1 L711.0,718.5 L712.0,719.8 L713.0,721.2 L714.0,722.6 L715.0,724.0 L716.0,725.4 L717.0,726.8 L718.0,728.2 L719.0,729.6 L720.0,731.0 L721.0,732.4 L722.0,733.8 L723.0,735.3 L724.0,736.7 L725.0,738.1 L726.0,739.5 L727.0,740.9 L728.0,742.4 L729.0,743.8 L730.0,745.2 L731.0,746.7 L732.0,748.1 L733.0,749.5 L734.0,751.0 L735.0,752.5 L736.0,754.0 L737.0,755.5 L738.0,757.0 L739.0,758.4 L740.0,759.8 L741.0,761.0 L742.0,762.1 L743.0,763.2 L744.0,764.2 L745.0,765.2 L746.0,766.2 L747.0,767.2 L748.0,768.2 L749.0,769.1 L750.0,770.0 L751.0,770.9 L752.0,771.8 L753.0,772.6 L754.0,773.4 L755.0,774.3 L756.0,775.1 L757.0,775.9 L758.0,776.6 L759.0,777.4 L760.0,778.2 L761.0,778.9 L762.0,779.6 L763.0,780.4 L764.0,781.1 L765.0,781.8 L766.0,782.6 L767.0,783.3 L768.0,784.0 L769.0,784.7 L770.0,785.4 L771.0,786.1 L772.0,786.7 L773.0,787.4 L774.0,788.0 L775.0,788.7 L776.0,789.3 L777.0,789.9 L778.0,790.5 L779.0,791.1 L780.0,791.7 L781.0,792.3 L782.0,792.8 L783.0,793.4 L784.0,794.0 L785.0,794.5 L786.0,795.1 L787.0,795.6 L788.0,796.2 L789.0,796.7 L790.0,797.3 L791.0,797.8 L792.0,798.3 L793.0,798.8 L794.0,799.4 L795.0,799.9 L796.0,800.4 L797.0,800.9 L798.0,801.5 L799.0,802.0 L800.0,802.5 L801.0,803.1 L802.0,803.6 L803.0,804.1 L804.0,804.7 L805.0,805.2 L806.0,805.7 L807.0,806.3 L808.0,806.8 L809.0,807.3 L810.0,807.9 L811.0,808.4 L812.0,808.9 L813.0,809.4 L814.0,809.9 L815.0,810.4 L816.0,811.0 L817.0,811.5 L818.0,812.0 L819.0,812.6 L820.0,813.1 L821.0,813.6 L822.0,814.2 L823.0,814.8 L824.0,815.3 L825.0,815.9 L826.0,816.5 L827.0,817.1 L828.0,817.7 L829.0,818.3 L830.0,819.0 L831.0,819.6 L832.0,820.3 L833.0,821.0 L834.0,821.7 L835.0,822.4 L836.0,823.1 L837.0,823.8 L838.0,824.5 L839.0,825.3 L840.0,826.0 L841.0,826.8 L842.0,827.6 L843.0,828.3 L844.0,829.1 L845.0,829.9 L846.0,830.7 L847.0,831.5 L848.0,832.2 L849.0,833.0 L850.0,833.8 L851.0,834.6 L852.0,835.5 L853.0,836.3 L854.0,837.1 L855.0,838.0 L856.0,838.8 L857.0,839.7 L858.0,840.5 L859.0,841.4 L860.0,842.3 L861.0,843.2 L862.0,844.1 L863.0,845.0 L864.0,845.9 L865.0,846.8 L866.0,847.7 L867.0,848.6 L868.0,849.5 L869.0,850.4 L870.0,851.3 L871.0,852.2 L872.0,853.1 L873.0,854.0 L874.0,854.9 L875.0,855.9 L876.0,856.8 L877.0,857.8 L878.0,858.8 L879.0,859.7 L880.0,860.7 L881.0,861.7 L882.0,862.7 L883.0,863.6 L884.0,864.6 L885.0,865.5 L886.0,866.4 L887.0,867.3 L888.0,868.2 L889.0,869.1 L890.0,869.9 L891.0,870.7 L892.0,871.5 L893.0,872.2 L894.0,872.9 L895.0,873.6 L896.0,874.3 L897.0,875.0 L898.0,875.6 L899.0,876.3 L900.0,876.9 L901.0,877.6 L902.0,878.2 L903.0,878.8 L904.0,879.4 L905.0,880.0 L906.0,880.5 L907.0,881.1 L908.0,881.7 L909.0,882.3 L910.0,882.8 L911.0,883.4 L912.0,883.9 L913.0,884.5 L914.0,885.1 L915.0,885.6 L916.0,886.2 L917.0,886.7 L918.0,887.2 L919.0,887.8 L920.0,888.3 L921.0,888.8 L922.0,889.3 L923.0,889.8 L924.0,890.3 L925.0,890.8 L926.0,891.3 L927.0,891.8 L928.0,892.4 L929.0,892.9 L930.0,893.4 L931.0,894.0 L932.0,894.5 L933.0,895.1 L934.0,895.6 L935.0,896.2 L936.0,896.8 L937.0,897.4 L938.0,897.9 L939.0,898.5 L940.0,899.1 L941.0,899.7 L942.0,900.3 L943.0,900.9 L944.0,901.5 L945.0,902.1 L946.0,902.6 L947.0,903.2 L948.0,903.8 L949.0,904.4 L950.0,905.0 L951.0,905.6 L952.0,906.2 L953.0,906.7 L954.0,907.3 L955.0,907.9 L956.0,908.5 L957.0,909.0 L958.0,909.6 L959.0,910.1 L960.0,910.7 L961.0,911.2 L962.0,911.7 L963.0,912.3 L964.0,912.8 L965.0,913.3 L966.0,913.8 L967.0,914.3 L968.0,914.8 L969.0,915.3 L970.0,915.8 L971.0,916.3 L972.0,916.7 L973.0,917.2 L974.0,917.7 L975.0,918.2 L976.0,918.7 L977.0,919.1 L978.0,919.6 L979.0,920.1 L980.0,920.6 L981.0,921.0 L982.0,921.5 L983.0,921.9 L984.0,922.4 L985.0,922.9 L986.0,923.3 L987.0,923.8 L988.0,924.2 L989.0,924.7 L990.0,925.1 L991.0,925.6 L992.0,926.0 L993.0,926.5 L994.0,926.9 L995.0,927.3 L996.0,927.8 L997.0,928.2 L998.0,928.7 L999.0,929.1 L1000.0,929.5 L1001.0,929.9 L1002.0,930.4 L1003.0,930.8 L1004.0,931.2 L1005.0,931.6 L1006.0,932.1 L1007.0,932.5 L1008.0,932.9 L1009.0,933.3 L1010.0,933.7 L1011.0,934.1 L1012.0,934.6 L1013.0,935.0 L1014.0,935.4 L1015.0,935.8 L1016.0,936.2 L1017.0,936.6 L1018.0,937.0 L1019.0,937.4 L1020.0,937.8 L1021.0,938.2 L1022.0,938.6 L1023.0,938.9 L1024.0,939.3 L1025.0,939.7 L1026.0,940.1 L1027.0,940.5 L1028.0,940.9 L1029.0,941.3 L1030.0,941.6 L1031.0,942.0 L1032.0,942.4 L1033.0,942.8 L1034.0,943.1 L1035.0,943.5 L1036.0,943.9 L1037.0,944.3 L1038.0,944.6 L1039.0,945.0 L1040.0,945.4 L1041.0,945.7 L1042.0,946.1 L1043.0,946.4 L1044.0,946.8 L1045.0,947.1 L1046.0,947.5 L1047.0,947.8 L1048.0,948.2 L1049.0,948.5 L1050.0,948.9 L1051.0,949.2 L1052.0,949.6 L1053.0,949.9 L1054.0,950.2 L1055.0,950.6 L1056.0,950.9 L1057.0,951.3 L1058.0,951.6 L1059.0,951.9 L1060.0,952.3 L1061.0,952.6 L1062.0,952.9 L1063.0,953.2 L1064.0,953.6 L1065.0,953.9 L1066.0,954.2 L1067.0,954.6 L1068.0,954.9 L1069.0,955.2 L1070.0,955.5 L1071.0,955.8 L1072.0,956.2 L1073.0,956.5 L1074.0,956.8 L1075.0,957.1 L1076.0,957.5 L1077.0,957.8 L1078.0,958.1 L1079.0,958.4 L1080.0,958.7 L1081.0,959.0 L1082.0,959.4 L1083.0,959.7 L1084.0,960.0 L1085.0,960.3 L1086.0,960.6 L1087.0,960.9 L1088.0,961.2 L1089.0,961.6 L1090.0,961.9 L1091.0,962.2 L1092.0,962.5 L1093.0,962.8 L1094.0,963.1 L1095.0,963.5 L1096.0,963.8 L1097.0,964.1 L1098.0,964.4 L1099.0,964.7 L1100.0,965.0 L1101.0,965.3 L1102.0,965.7 L1103.0,966.0 L1104.0,966.3 L1105.0,966.6 L1106.0,966.9 L1107.0,967.2 L1108.0,967.5 L1109.0,967.9 L1110.0,968.2 L1111.0,968.5 L1112.0,968.8 L1113.0,969.1 L1114.0,969.4 L1115.0,969.7 L1116.0,970.0 L1117.0,970.3 L1118.0,970.6 L1119.0,971.0 L1120.0,971.3 L1121.0,971.6 L1122.0,971.9 L1123.0,972.2 L1124.0,972.5 L1125.0,972.8 L1126.0,973.1 L1127.0,973.4 L1128.0,973.7 L1129.0,974.0 L1130.0,974.3 L1131.0,974.6 L1132.0,974.9 L1133.0,975.2 L1134.0,975.5 L1135.0,975.8 L1136.0,976.1 L1137.0,976.4 L1138.0,976.7 L1139.0,977.0 L1140.0,977.3 L1141.0,977.6 L1142.0,977.9 L1143.0,978.2 L1144.0,978.5 L1145.0,978.8 L1146.0,979.1 L1147.0,979.4 L1148.0,979.6 L1149.0,979.9 L1150.0,980.2 L1151.0,980.5 L1152.0,980.8 L1153.0,981.1 L1154.0,981.4 L1155.0,981.7 L1156.0,981.9 L1157.0,982.2 L1158.0,982.5 L1159.0,982.8 L1160.0,983.1 L1161.0,983.4 L1162.0,983.6 L1163.0,983.9 L1164.0,984.2 L1165.0,984.5 L1166.0,984.8 L1167.0,985.0 L1168.0,985.3 L1169.0,985.6 L1170.0,985.9 L1171.0,986.1 L1172.0,986.4 L1173.0,986.7 L1174.0,986.9 L1175.0,987.2 L1176.0,987.5 L1177.0,987.8 L1178.0,988.0 L1179.0,988.3 L1180.0,988.6 L1181.0,988.8 L1182.0,989.1 L1183.0,989.4 L1184.0,989.6 L1185.0,989.9 L1186.0,990.2 L1187.0,990.4 L1188.0,990.7 L1189.0,990.9 L1190.0,991.2 L1191.0,991.5 L1192.0,991.7 L1193.0,992.0 L1194.0,992.2 L1195.0,992.5 L1196.0,992.7 L1197.0,993.0 L1198.0,993.3 L1199.0,993.5 L1200.0,993.8 L1201.0,994.0 L1202.0,994.3 L1203.0,994.5 L1204.0,994.8 L1205.0,995.0 L1206.0,995.3 L1207.0,995.5 L1208.0,995.8 L1209.0,996.0 L1210.0,996.3 L1211.0,996.5 L1212.0,996.8 L1213.0,997.0 L1214.0,997.3" fill="none" stroke="#ee1111" stroke-width="2.2" stroke-dasharray="16 8"/>
<path d="M592.0,606.5 L592.6,613.0 L593.4,611.9 L594.8,612.5 L596.2,613.0 L597.6,613.0 L599.0,612.6 L600.4,613.2 L601.8,613.3 L603.2,613.9 L604.6,614.7 L606.0,615.1 L607.4,615.6 L608.8,616.3 L610.2,617.2 L611.6,617.2 L613.0,618.2 L614.4,618.9 L615.8,619.3 L617.2,620.6 L618.6,621.7 L620.0,622.4 L621.4,623.3 L622.8,624.4 L624.2,624.8 L625.6,626.0 L627.0,627.6 L628.4,628.6 L629.8,629.6 L631.2,631.4 L632.6,633.2 L634.0,633.4 L635.4,635.1 L636.8,636.3 L638.2,637.4 L639.6,638.9 L641.0,639.8 L642.4,641.7 L643.8,643.0 L645.2,643.5 L646.6,645.1 L648.0,646.5 L649.4,647.7 L650.8,649.5 L652.2,650.7 L653.6,653.0 L655.0,654.4 L656.4,656.1 L657.8,657.7 L659.2,659.2 L660.6,659.9 L662.0,662.0 L663.4,663.6 L664.8,664.9 L666.2,667.2 L667.6,668.3 L669.0,670.3 L670.4,672.7 L671.8,674.3 L673.2,676.8 L674.6,678.1 L676.0,680.4 L677.4,681.0 L678.8,682.6 L680.2,685.0 L681.6,685.7 L683.0,687.9 L684.4,688.7 L685.8,690.6 L687.2,692.4 L688.6,693.5 L690.0,694.6 L691.4,696.3 L692.8,698.4 L694.2,699.6 L695.6,701.3 L697.0,702.7 L698.4,704.5 L699.8,706.1 L701.2,707.6 L702.6,710.2 L704.0,711.9 L705.4,712.7 L706.8,715.5 L708.2,717.8 L709.6,720.1 L711.0,720.2 L712.4,722.7 L713.8,724.6 L715.2,726.5 L716.6,727.3 L718.0,729.6 L719.4,730.6 L720.8,732.2 L722.2,733.3 L723.6,735.2 L725.0,736.2 L726.4,738.2 L727.8,739.7 L729.2,742.3 L730.6,744.7 L732.0,745.3 L733.4,746.5 L734.8,748.5 L736.2,749.8 L737.6,750.5 L739.0,753.4 L740.4,754.6 L741.8,757.5 L743.2,758.4 L744.6,761.2 L746.0,763.0 L747.4,763.8 L748.8,765.8 L750.2,767.5 L751.6,769.3 L753.0,772.2 L754.4,772.5 L755.8,774.0 L757.2,775.0 L758.6,778.4 L760.0,777.9 L761.4,779.3 L762.8,779.7 L764.2,782.1 L765.6,782.1 L767.0,783.5 L768.4,783.2 L769.8,785.1 L771.2,789.0 L772.6,791.3 L774.0,789.6 L775.4,793.6 L776.8,795.0 L778.2,800.5 L779.6,795.8 L781.0,797.4 L782.4,798.0 L783.8,802.1 L785.2,803.6 L786.6,802.6 L788.0,806.8 L789.4,809.0 L790.8,805.8 L792.2,808.8 L793.6,808.8 L795.0,809.2 L796.4,810.9 L797.8,812.7 L799.2,812.0 L800.6,815.7 L802.0,818.9 L803.4,816.7 L804.8,818.9 L806.2,819.5 L807.6,823.6 L809.0,823.9 L810.4,827.4 L811.8,826.0 L813.2,824.7 L814.6,830.4 L816.0,829.6 L817.4,834.0 L818.8,834.2 L820.2,827.7 L821.6,830.3 L823.0,836.0 L824.4,835.3 L825.8,832.8 L827.2,837.9 L828.6,843.4 L830.0,842.9 L831.4,840.2 L832.8,844.2 L834.2,847.1 L835.6,845.2 L837.0,851.3 L838.4,846.0 L839.8,854.4 L841.2,854.1 L842.6,852.5 L844.0,852.8 L845.4,853.4 L846.8,851.8 L848.2,858.1 L849.6,859.9 L851.0,859.7 L852.4,859.3 L853.8,859.8 L855.2,857.8 L856.6,859.5 L858.0,858.2 L859.4,864.7 L860.8,861.7 L862.2,867.7 L863.6,864.3 L865.0,871.4 L866.4,872.8 L867.8,873.6 L869.2,873.4 L870.6,869.8 L872.0,870.5 L873.4,869.9 L874.8,873.9 L876.2,878.7 L877.6,870.5 L879.0,882.2 L880.4,873.0 L881.8,871.3 L883.2,876.8 L884.6,879.8 L886.0,874.9 L887.4,872.6 L888.8,883.8 L890.2,872.5 L891.6,881.6 L893.0,878.3 L894.4,876.3 L895.8,878.5 L897.2,873.5 L898.6,873.6 L900.0,881.0 L901.4,874.7 L902.8,876.6 L904.2,888.5 L905.6,891.0 L907.0,888.2 L908.4,887.8 L909.8,882.5 L911.2,885.0 L912.6,881.3 L914.0,870.7 L915.4,887.8 L916.8,888.7 L918.2,893.7 L919.6,882.1 L921.0,896.0 L922.4,886.9 L923.8,883.4 L925.2,889.5 L926.6,896.9 L928.0,891.7 L929.4,894.8 L930.8,887.2 L932.2,895.7 L933.6,899.2 L935.0,888.0 L936.4,896.3 L937.8,885.6 L939.2,895.7 L940.6,885.1 L942.0,897.5 L943.4,895.1 L944.8,888.2 L946.2,898.2 L947.6,889.7 L949.0,897.2 L950.4,890.9 L951.8,901.1 L953.2,894.2 L954.6,908.3 L956.0,902.2 L957.4,903.4 L958.8,891.0 L960.2,886.3 L961.6,895.9 L963.0,915.0 L964.4,896.0 L965.8,912.3 L967.2,913.3 L968.6,900.6 L970.0,904.1 L971.4,916.1 L972.8,905.1 L974.2,904.6 L975.6,903.9 L977.0,909.3 L978.4,908.4 L979.8,919.3 L981.2,912.0 L982.6,919.9 L984.0,910.2 L985.4,930.0 L986.8,910.9 L988.2,911.1 L989.6,906.2 L991.0,899.3 L992.4,906.4 L993.8,915.7 L995.2,906.1 L996.6,921.7 L998.0,901.6 L999.4,901.6 L1000.8,918.9 L1002.2,920.2 L1003.6,936.0 L1005.0,927.4 L1006.4,930.7 L1007.8,922.7 L1009.2,909.2 L1010.6,931.8 L1012.0,919.2 L1013.4,920.9 L1014.8,927.4 L1016.2,987.0 L1017.6,937.9 L1019.0,919.9 L1020.4,935.4 L1021.8,933.5 L1023.2,943.0 L1024.6,932.4 L1026.0,936.2 L1027.4,925.6 L1028.8,927.5 L1030.2,924.7 L1031.6,937.4 L1033.0,925.2 L1034.4,945.2 L1035.8,931.0 L1037.2,921.7 L1038.6,926.9 L1040.0,962.0 L1041.4,929.5 L1042.8,939.8 L1044.2,920.5 L1045.6,975.0 L1047.0,943.2 L1048.4,941.4 L1049.8,944.7 L1051.2,928.9 L1052.6,923.4 L1054.0,927.3 L1055.4,948.3 L1056.8,945.1 L1058.2,949.8 L1059.6,937.9 L1061.0,951.8 L1062.4,930.6 L1063.8,950.2 L1065.8,932.0 L1068.0,1022.0 L1069.5,985.1 L1071.0,930.0 L1073.0,981.1 L1075.0,982.0 L1077.0,943.9 L1079.0,995.0 L1081.7,943.3 L1084.4,1022.0 L1086.2,944.0 L1088.0,950.0 L1090.0,971.7 L1092.0,931.0 L1093.8,981.9 L1095.5,1022.0 L1098.0,945.0 L1099.3,969.3 L1100.7,1022.0 L1102.5,930.0 L1104.8,946.4 L1107.0,981.0 L1108.5,951.9 L1110.0,950.0 L1111.5,940.4 L1113.0,960.0 L1114.5,980.8 L1116.0,984.0 L1117.5,931.0 L1119.8,979.5 L1122.0,1002.0 L1124.0,945.7 L1126.0,930.0 L1128.5,969.7 L1131.0,1022.0 L1133.0,955.0 L1135.0,1022.0 L1137.0,960.0 L1139.0,1022.0 L1141.0,950.0 L1143.0,1022.0 L1144.5,950.9 L1146.0,1022.0 L1148.0,960.0 L1149.5,960.7 L1151.0,931.0 L1153.0,1012.0 L1154.5,947.2 L1156.0,955.0 L1157.5,963.7 L1159.0,930.0 L1160.5,949.0 L1162.0,960.0 L1163.5,950.8 L1165.0,945.0 L1166.5,955.2 L1168.0,930.0 L1170.0,994.0 L1171.5,943.3 L1173.0,950.0 L1175.0,1022.0 L1176.5,977.9 L1178.0,960.0 L1179.5,989.1 L1181.0,945.0 L1182.5,972.6 L1184.0,975.0 L1185.8,946.7 L1187.5,932.0 L1190.0,1022.0 L1191.5,960.3 L1193.0,950.0 L1195.0,1015.0 L1196.8,965.3 L1198.5,932.0 L1201.0,1022.0 L1202.5,948.7 L1204.0,933.0 L1205.5,981.9 L1207.0,965.0 L1208.5,952.9 L1210.0,950.0 L1211.5,979.1 L1213.0,1002.0 L1214.5,985.0" fill="none" stroke="#0a3ae8" stroke-width="2.6" stroke-linejoin="round"/>
<g stroke="#1e1e1e" stroke-width="1.9" fill="none">
<path d="M571.7,601.6 V1032.6 M561.8,1022.2 H1214.2"/>
<path d="M561.8,639.4 H571.7"/>
<path d="M561.8,766.8 H571.7"/>
<path d="M561.8,893.5 H571.7"/>
<path d="M561.8,1021.8 H571.7"/>
<path d="M571.7,1022.2 V1032"/>
<path d="M700,1022.2 V1032"/>
<path d="M828.2,1022.2 V1032"/>
<path d="M957,1022.2 V1032"/>
<path d="M1085.2,1022.2 V1032"/>
<path d="M1214,1022.2 V1032"/>
</g>
<path d="M1044,636 H1095.5" stroke="#0a3ae8" stroke-width="3.4"/>
<path d="M1044,674 H1091" stroke="#22cc33" stroke-width="3.4" stroke-dasharray="12.3 5.3"/>
<path d="M1044,712.7 H1091" stroke="#ee1111" stroke-width="3.4" stroke-dasharray="16.7 14"/>
<g fill="#000">
<text transform="translate(1.65,55.35) scale(0.7045,0.7783)" font-size="100" stroke="#000" stroke-width="1.48">A</text>
<text transform="translate(816.21,55.35) scale(0.6679,0.7783)" font-size="100" stroke="#000" stroke-width="1.52">B</text>
<text transform="translate(429.92,650.48) scale(0.6254,0.7704)" font-size="100" stroke="#000" stroke-width="1.58">C</text>
<text transform="translate(119.47,24.26) scale(0.3188,0.2944)" font-size="100" stroke="#000" stroke-width="2.94">0</text>
<text transform="translate(113.92,175.35) scale(0.3075,0.3145)" font-size="100" stroke="#000" stroke-width="2.89">-1</text>
<text transform="translate(114.23,309.35) scale(0.3037,0.3086)" font-size="100" stroke="#000" stroke-width="2.94">-2</text>
<text transform="translate(114.23,440.54) scale(0.3037,0.3056)" font-size="100" stroke="#000" stroke-width="2.95">-3</text>
<text transform="translate(156.19,496.27) scale(0.3146,0.2831)" font-size="100" stroke="#000" stroke-width="3.01">0</text>
<text transform="translate(352.21,496.27) scale(0.3099,0.2775)" font-size="100" stroke="#000" stroke-width="3.06">0.5</text>
<text transform="translate(574.28,496.55) scale(0.2837,0.2855)" font-size="100" stroke="#000" stroke-width="3.16">1</text>
<text transform="translate(769.70,496.75) scale(0.3063,0.3014)" font-size="100" stroke="#000" stroke-width="2.96">1.5</text>
<text transform="translate(428.71,525.92) scale(0.3536,0.3431)" font-size="100" stroke="#000" stroke-width="1.00">s (nm<tspan dy="-28" font-size="62">-1</tspan><tspan dy="28">)</tspan></text>
<text transform="translate(86.07,267.03) rotate(-90) scale(0.3256,0.3548)" font-size="100" stroke="#000" stroke-width="1.03">Log I (s)</text>
<text transform="translate(639.90,43.55) scale(0.2693,0.2478)" font-size="100" stroke="#000" stroke-width="3.48">MagD</text>
<text transform="translate(639.87,79.87) scale(0.2729,0.2467)" font-size="100" stroke="#000" stroke-width="3.46">MagA:MagD</text>
<text transform="translate(639.88,117.25) scale(0.2709,0.2522)" font-size="100" stroke="#000" stroke-width="3.44">MagB:MagD</text>
<text transform="translate(639.88,151.35) scale(0.2708,0.2522)" font-size="100" stroke="#000" stroke-width="3.44">MagF:MagD</text>
<text transform="translate(195.55,181.00) scale(0.2167,0.1883)" font-size="100" stroke="#000" stroke-width="3.11">-0.05</text>
<text transform="translate(195.53,287.72) scale(0.2168,0.1789)" font-size="100" stroke="#000" stroke-width="3.02">-0.15</text>
<text transform="translate(195.55,392.50) scale(0.2167,0.1883)" font-size="100" stroke="#000" stroke-width="3.11">-0.25</text>
<text transform="translate(255.44,415.98) scale(0.2218,0.1950)" font-size="100" stroke="#000" stroke-width="3.13">0</text>
<text transform="translate(341.89,415.98) scale(0.2094,0.1950)" font-size="100" stroke="#000" stroke-width="3.23">0.03</text>
<text transform="translate(453.46,415.98) scale(0.2158,0.1950)" font-size="100" stroke="#000" stroke-width="3.18">0.06</text>
<text transform="translate(559.09,415.98) scale(0.2094,0.1950)" font-size="100" stroke="#000" stroke-width="3.23">0.09</text>
<text transform="translate(369.08,438.54) scale(0.2106,0.1880)" font-size="100" stroke="#000" stroke-width="4.18">s<tspan dy="-28" font-size="62">2</tspan><tspan dy="28"> (nm</tspan><tspan dy="-28" font-size="62">-2</tspan><tspan dy="28">)</tspan></text>
<text transform="translate(187.05,305.85) rotate(-90) scale(0.2006,0.2096)" font-size="100" stroke="#000" stroke-width="4.39">Log I (s)</text>
<text transform="translate(924.45,29.05) scale(0.3000,0.2855)" font-size="100" stroke="#000" stroke-width="3.07">1</text>
<text transform="translate(898.07,114.49) scale(0.3192,0.2650)" font-size="100" stroke="#000" stroke-width="3.04">0.8</text>
<text transform="translate(898.07,201.07) scale(0.3191,0.2775)" font-size="100" stroke="#000" stroke-width="3.02">0.6</text>
<text transform="translate(898.53,287.67) scale(0.3053,0.2775)" font-size="100" stroke="#000" stroke-width="3.09">0.4</text>
<text transform="translate(898.51,374.17) scale(0.3100,0.2775)" font-size="100" stroke="#000" stroke-width="3.06">0.2</text>
<text transform="translate(924.23,458.57) scale(0.3042,0.2775)" font-size="100" stroke="#000" stroke-width="3.09">0</text>
<text transform="translate(960.84,491.66) scale(0.3021,0.2887)" font-size="100" stroke="#000" stroke-width="3.05">0</text>
<text transform="translate(1094.90,491.66) scale(0.2872,0.2929)" font-size="100" stroke="#000" stroke-width="3.10">5</text>
<text transform="translate(1205.29,491.56) scale(0.3081,0.2944)" font-size="100" stroke="#000" stroke-width="2.99">10</text>
<text transform="translate(1332.73,491.55) scale(0.3030,0.2986)" font-size="100" stroke="#000" stroke-width="2.99">15</text>
<text transform="translate(1460.53,491.56) scale(0.3049,0.2944)" font-size="100" stroke="#000" stroke-width="3.00">20</text>
<text transform="translate(1187.80,528.51) scale(0.3674,0.3484)" font-size="100" stroke="#000" stroke-width="0.98">r (nm)</text>
<text transform="translate(881.10,264.71) rotate(-90) scale(0.3205,0.3213)" font-size="100" stroke="#000" stroke-width="0.93"><tspan font-style="italic">p</tspan>(r)</text>
<text transform="translate(525.26,654.46) scale(0.2987,0.2901)" font-size="100" stroke="#000" stroke-width="3.06">-3</text>
<text transform="translate(525.21,781.96) scale(0.3110,0.3074)" font-size="100" stroke="#000" stroke-width="2.91">-4</text>
<text transform="translate(525.27,910.54) scale(0.2951,0.3057)" font-size="100" stroke="#000" stroke-width="3.00">-5</text>
<text transform="translate(525.21,1024.56) scale(0.3112,0.2944)" font-size="100" stroke="#000" stroke-width="2.97">-6</text>
<text transform="translate(565.62,1063.28) scale(0.3062,0.2746)" font-size="100" stroke="#000" stroke-width="3.10">0</text>
<text transform="translate(668.23,1063.28) scale(0.3061,0.2746)" font-size="100" stroke="#000" stroke-width="3.10">0.5</text>
<text transform="translate(821.07,1063.25) scale(0.2977,0.2986)" font-size="100" stroke="#000" stroke-width="3.02">1</text>
<text transform="translate(931.44,1062.96) scale(0.3016,0.2943)" font-size="100" stroke="#000" stroke-width="3.02">1.5</text>
<text transform="translate(1075.88,1063.25) scale(0.3130,0.2943)" font-size="100" stroke="#000" stroke-width="2.96">2</text>
<text transform="translate(1190.93,1062.96) scale(0.3046,0.2901)" font-size="100" stroke="#000" stroke-width="3.03">2.5</text>
<text transform="translate(828.11,1108.15) scale(0.3533,0.3559)" font-size="100" stroke="#000" stroke-width="0.99">s (nm<tspan dy="-28" font-size="62">-1</tspan><tspan dy="28">)</tspan></text>
<text transform="translate(501.77,866.33) rotate(-90) scale(0.3256,0.3548)" font-size="100" stroke="#000" stroke-width="1.03">Log I (s)</text>
<text transform="translate(1097.68,646.64) scale(0.2717,0.2578)" font-size="100" stroke="#000" stroke-width="3.40">MagD</text>
<text transform="translate(1097.53,684.29) scale(0.2633,0.2650)" font-size="100" stroke="#000" stroke-width="3.36">Sa-A2M</text>
<text transform="translate(1097.82,720.69) scale(0.2528,0.2650)" font-size="100" stroke="#000" stroke-width="3.42">ECAM</text>
</g>
</svg></body></html>
